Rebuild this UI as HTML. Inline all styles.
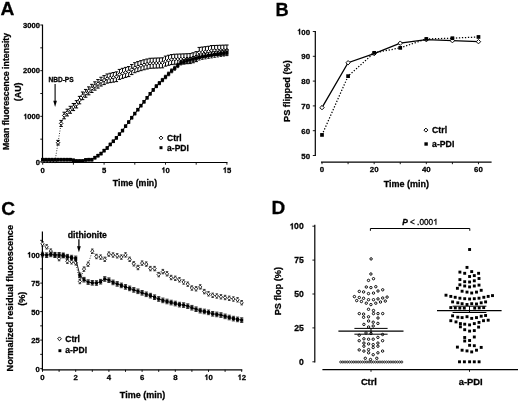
<!DOCTYPE html>
<html><head><meta charset="utf-8"><style>
html,body{margin:0;padding:0;background:#fff;width:520px;height:403px;overflow:hidden}
svg{display:block;will-change:transform}
text{stroke:#000;stroke-width:0.28px;font-family:"Liberation Sans", sans-serif;fill:#000}
</style></head><body>
<svg width="520" height="403" viewBox="0 0 520 403">
<rect width="520" height="403" fill="#fff"/>
<g id="main">
<text x="0.6" y="14.6" font-size="19.2" font-weight="bold" text-anchor="start">A</text>
<line x1="42.5" y1="24.6" x2="42.5" y2="163" stroke="#000" stroke-width="1.2"/>
<line x1="42" y1="162.5" x2="227.5" y2="162.5" stroke="#000" stroke-width="1.2"/>
<line x1="40.3" y1="162" x2="42.5" y2="162" stroke="#000" stroke-width="0.9"/>
<text x="40" y="164.8" font-size="7.6" font-weight="bold" text-anchor="end">0</text>
<line x1="40.3" y1="139.17" x2="42.5" y2="139.17" stroke="#000" stroke-width="0.9"/>
<line x1="40.3" y1="116.33" x2="42.5" y2="116.33" stroke="#000" stroke-width="0.9"/>
<text x="40" y="119.13" font-size="7.6" font-weight="bold" text-anchor="end">&#x2007;000</text>
<path d="M26.18 119.13 L25.19 119.13 L25.19 115.33 Q24.62 115.71 24.01 115.87 L24.01 114.95 Q24.62 114.73 25.07 114.27 Q25.38 113.97 25.45 113.69 L26.18 113.69Z" fill="#000" stroke="#000" stroke-width="0.28"/>
<line x1="40.3" y1="93.5" x2="42.5" y2="93.5" stroke="#000" stroke-width="0.9"/>
<line x1="40.3" y1="70.67" x2="42.5" y2="70.67" stroke="#000" stroke-width="0.9"/>
<text x="40" y="73.47" font-size="7.6" font-weight="bold" text-anchor="end">2000</text>
<line x1="40.3" y1="47.83" x2="42.5" y2="47.83" stroke="#000" stroke-width="0.9"/>
<line x1="40.3" y1="25" x2="42.5" y2="25" stroke="#000" stroke-width="0.9"/>
<text x="40" y="27.8" font-size="7.6" font-weight="bold" text-anchor="end">3000</text>
<line x1="42.7" y1="162.6" x2="42.7" y2="164.7" stroke="#000" stroke-width="0.9"/>
<text x="42.7" y="172.8" font-size="7.7" font-weight="bold" text-anchor="middle">0</text>
<line x1="73.4" y1="162.6" x2="73.4" y2="164.7" stroke="#000" stroke-width="0.9"/>
<line x1="104.1" y1="162.6" x2="104.1" y2="164.7" stroke="#000" stroke-width="0.9"/>
<text x="104.1" y="172.8" font-size="7.7" font-weight="bold" text-anchor="middle">5</text>
<line x1="134.8" y1="162.6" x2="134.8" y2="164.7" stroke="#000" stroke-width="0.9"/>
<line x1="165.5" y1="162.6" x2="165.5" y2="164.7" stroke="#000" stroke-width="0.9"/>
<text x="165.5" y="172.8" font-size="7.7" font-weight="bold" text-anchor="middle">&#x2007;0</text>
<path d="M164.34 172.8 L163.34 172.8 L163.34 168.95 Q162.76 169.34 162.14 169.49 L162.14 168.56 Q162.76 168.33 163.22 167.87 Q163.53 167.56 163.61 167.29 L164.34 167.29Z" fill="#000" stroke="#000" stroke-width="0.28"/>
<line x1="196.2" y1="162.6" x2="196.2" y2="164.7" stroke="#000" stroke-width="0.9"/>
<line x1="226.9" y1="162.6" x2="226.9" y2="164.7" stroke="#000" stroke-width="0.9"/>
<text x="226.9" y="172.8" font-size="7.7" font-weight="bold" text-anchor="middle">&#x2007;5</text>
<path d="M225.74 172.8 L224.74 172.8 L224.74 168.95 Q224.16 169.34 223.54 169.49 L223.54 168.56 Q224.16 168.33 224.62 167.87 Q224.93 167.56 225.01 167.29 L225.74 167.29Z" fill="#000" stroke="#000" stroke-width="0.28"/>
<text x="135" y="186" font-size="8.8" font-weight="bold" text-anchor="middle">Time (min)</text>
<text x="8.6" y="91.5" font-size="8.75" font-weight="bold" text-anchor="middle" transform="rotate(-90 8.6 91.5)">Mean fluorescence intensity</text>
<text x="20.7" y="91.8" font-size="8.85" font-weight="bold" text-anchor="middle" transform="rotate(-90 20.7 91.8)">(AU)</text>
<text x="48.4" y="82.4" font-size="6.6" font-weight="bold" text-anchor="start">NBD-PS</text>
<line x1="55.1" y1="84" x2="55.1" y2="102" stroke="#000" stroke-width="1.1"/>
<path d="M53.3 100.8L56.9 100.8L55.1 106.9Z" fill="#000"/>
<polyline points="42.7,161.3 45.77,161.3 48.84,161.3 51.91,161.3 54.98,161.3 58.05,142.7 61.12,123.44 64.19,115.51 67.26,112.55 70.33,109.78 73.4,107.04 76.47,104.29 79.54,100.11 82.61,95.81 85.68,93.34 88.75,90.86 91.82,88.43 94.89,86.01 97.96,83.83 101.03,81.65 104.1,80.1 107.17,78.56 110.24,77.93 113.31,77.34 116.38,76.74 119.45,74.4 122.52,73.34 125.59,72.39 128.66,71.59 131.73,69.59 134.8,67.71 137.87,66.61 140.94,65.65 144.01,64.78 147.08,64 150.15,63.29 153.22,63.18 156.29,63.06 159.36,62.94 162.43,62.82 165.5,61.13 168.57,60.25 171.64,59.59 174.71,59.23 177.78,59.1 180.85,58.98 183.92,58.85 186.99,58.72 190.06,58.58 193.13,57.77 196.2,56.64 199.27,52.41 202.34,52.06 205.41,51.7 208.48,51.27 211.55,50.58 214.62,50.46 217.69,50.35 220.76,50.23 223.83,50.12 226.9,50" fill="none" stroke="#000" stroke-width="0.85" stroke-dasharray="0.9 1.6"/>
<line x1="58.05" y1="140.39" x2="58.05" y2="145.01" stroke="#000" stroke-width="1"/>
<line x1="56.35" y1="140.39" x2="59.75" y2="140.39" stroke="#000" stroke-width="1"/>
<line x1="56.35" y1="145.01" x2="59.75" y2="145.01" stroke="#000" stroke-width="1"/>
<line x1="61.12" y1="120.43" x2="61.12" y2="126.45" stroke="#000" stroke-width="1"/>
<line x1="59.42" y1="120.43" x2="62.82" y2="120.43" stroke="#000" stroke-width="1"/>
<line x1="59.42" y1="126.45" x2="62.82" y2="126.45" stroke="#000" stroke-width="1"/>
<line x1="64.19" y1="112.2" x2="64.19" y2="118.82" stroke="#000" stroke-width="1"/>
<line x1="62.49" y1="112.2" x2="65.89" y2="112.2" stroke="#000" stroke-width="1"/>
<line x1="62.49" y1="118.82" x2="65.89" y2="118.82" stroke="#000" stroke-width="1"/>
<line x1="67.26" y1="109.16" x2="67.26" y2="115.93" stroke="#000" stroke-width="1"/>
<line x1="65.56" y1="109.16" x2="68.96" y2="109.16" stroke="#000" stroke-width="1"/>
<line x1="65.56" y1="115.93" x2="68.96" y2="115.93" stroke="#000" stroke-width="1"/>
<line x1="70.33" y1="106.31" x2="70.33" y2="113.25" stroke="#000" stroke-width="1"/>
<line x1="68.63" y1="106.31" x2="72.03" y2="106.31" stroke="#000" stroke-width="1"/>
<line x1="68.63" y1="113.25" x2="72.03" y2="113.25" stroke="#000" stroke-width="1"/>
<line x1="73.4" y1="103.48" x2="73.4" y2="110.59" stroke="#000" stroke-width="1"/>
<line x1="71.7" y1="103.48" x2="75.1" y2="103.48" stroke="#000" stroke-width="1"/>
<line x1="71.7" y1="110.59" x2="75.1" y2="110.59" stroke="#000" stroke-width="1"/>
<line x1="76.47" y1="100.66" x2="76.47" y2="107.93" stroke="#000" stroke-width="1"/>
<line x1="74.77" y1="100.66" x2="78.17" y2="100.66" stroke="#000" stroke-width="1"/>
<line x1="74.77" y1="107.93" x2="78.17" y2="107.93" stroke="#000" stroke-width="1"/>
<line x1="79.54" y1="96.39" x2="79.54" y2="103.82" stroke="#000" stroke-width="1"/>
<line x1="77.84" y1="96.39" x2="81.24" y2="96.39" stroke="#000" stroke-width="1"/>
<line x1="77.84" y1="103.82" x2="81.24" y2="103.82" stroke="#000" stroke-width="1"/>
<line x1="82.61" y1="92.01" x2="82.61" y2="99.61" stroke="#000" stroke-width="1"/>
<line x1="80.91" y1="92.01" x2="84.31" y2="92.01" stroke="#000" stroke-width="1"/>
<line x1="80.91" y1="99.61" x2="84.31" y2="99.61" stroke="#000" stroke-width="1"/>
<line x1="85.68" y1="89.45" x2="85.68" y2="97.22" stroke="#000" stroke-width="1"/>
<line x1="83.98" y1="89.45" x2="87.38" y2="89.45" stroke="#000" stroke-width="1"/>
<line x1="83.98" y1="97.22" x2="87.38" y2="97.22" stroke="#000" stroke-width="1"/>
<line x1="88.75" y1="86.89" x2="88.75" y2="94.83" stroke="#000" stroke-width="1"/>
<line x1="87.05" y1="86.89" x2="90.45" y2="86.89" stroke="#000" stroke-width="1"/>
<line x1="87.05" y1="94.83" x2="90.45" y2="94.83" stroke="#000" stroke-width="1"/>
<line x1="91.82" y1="84.37" x2="91.82" y2="92.49" stroke="#000" stroke-width="1"/>
<line x1="90.12" y1="84.37" x2="93.52" y2="84.37" stroke="#000" stroke-width="1"/>
<line x1="90.12" y1="92.49" x2="93.52" y2="92.49" stroke="#000" stroke-width="1"/>
<line x1="94.89" y1="81.84" x2="94.89" y2="90.17" stroke="#000" stroke-width="1"/>
<line x1="93.19" y1="81.84" x2="96.59" y2="81.84" stroke="#000" stroke-width="1"/>
<line x1="93.19" y1="90.17" x2="96.59" y2="90.17" stroke="#000" stroke-width="1"/>
<line x1="97.96" y1="79.56" x2="97.96" y2="88.09" stroke="#000" stroke-width="1"/>
<line x1="96.26" y1="79.56" x2="99.66" y2="79.56" stroke="#000" stroke-width="1"/>
<line x1="96.26" y1="88.09" x2="99.66" y2="88.09" stroke="#000" stroke-width="1"/>
<line x1="101.03" y1="77.28" x2="101.03" y2="86.02" stroke="#000" stroke-width="1"/>
<line x1="99.33" y1="77.28" x2="102.73" y2="77.28" stroke="#000" stroke-width="1"/>
<line x1="99.33" y1="86.02" x2="102.73" y2="86.02" stroke="#000" stroke-width="1"/>
<line x1="104.1" y1="75.63" x2="104.1" y2="84.57" stroke="#000" stroke-width="1"/>
<line x1="102.4" y1="75.63" x2="105.8" y2="75.63" stroke="#000" stroke-width="1"/>
<line x1="102.4" y1="84.57" x2="105.8" y2="84.57" stroke="#000" stroke-width="1"/>
<line x1="107.17" y1="73.99" x2="107.17" y2="83.14" stroke="#000" stroke-width="1"/>
<line x1="105.47" y1="73.99" x2="108.87" y2="73.99" stroke="#000" stroke-width="1"/>
<line x1="105.47" y1="83.14" x2="108.87" y2="83.14" stroke="#000" stroke-width="1"/>
<line x1="110.24" y1="73.26" x2="110.24" y2="82.61" stroke="#000" stroke-width="1"/>
<line x1="108.54" y1="73.26" x2="111.94" y2="73.26" stroke="#000" stroke-width="1"/>
<line x1="108.54" y1="82.61" x2="111.94" y2="82.61" stroke="#000" stroke-width="1"/>
<line x1="113.31" y1="72.56" x2="113.31" y2="82.11" stroke="#000" stroke-width="1"/>
<line x1="111.61" y1="72.56" x2="115.01" y2="72.56" stroke="#000" stroke-width="1"/>
<line x1="111.61" y1="82.11" x2="115.01" y2="82.11" stroke="#000" stroke-width="1"/>
<line x1="116.38" y1="71.86" x2="116.38" y2="81.62" stroke="#000" stroke-width="1"/>
<line x1="114.68" y1="71.86" x2="118.08" y2="71.86" stroke="#000" stroke-width="1"/>
<line x1="114.68" y1="81.62" x2="118.08" y2="81.62" stroke="#000" stroke-width="1"/>
<line x1="119.45" y1="69.42" x2="119.45" y2="79.38" stroke="#000" stroke-width="1"/>
<line x1="117.75" y1="69.42" x2="121.15" y2="69.42" stroke="#000" stroke-width="1"/>
<line x1="117.75" y1="79.38" x2="121.15" y2="79.38" stroke="#000" stroke-width="1"/>
<line x1="122.52" y1="68.34" x2="122.52" y2="78.34" stroke="#000" stroke-width="1"/>
<line x1="120.82" y1="68.34" x2="124.22" y2="68.34" stroke="#000" stroke-width="1"/>
<line x1="120.82" y1="78.34" x2="124.22" y2="78.34" stroke="#000" stroke-width="1"/>
<line x1="125.59" y1="67.39" x2="125.59" y2="77.39" stroke="#000" stroke-width="1"/>
<line x1="123.89" y1="67.39" x2="127.29" y2="67.39" stroke="#000" stroke-width="1"/>
<line x1="123.89" y1="77.39" x2="127.29" y2="77.39" stroke="#000" stroke-width="1"/>
<line x1="128.66" y1="66.59" x2="128.66" y2="76.59" stroke="#000" stroke-width="1"/>
<line x1="126.96" y1="66.59" x2="130.36" y2="66.59" stroke="#000" stroke-width="1"/>
<line x1="126.96" y1="76.59" x2="130.36" y2="76.59" stroke="#000" stroke-width="1"/>
<line x1="131.73" y1="64.59" x2="131.73" y2="74.59" stroke="#000" stroke-width="1"/>
<line x1="130.03" y1="64.59" x2="133.43" y2="64.59" stroke="#000" stroke-width="1"/>
<line x1="130.03" y1="74.59" x2="133.43" y2="74.59" stroke="#000" stroke-width="1"/>
<line x1="134.8" y1="62.71" x2="134.8" y2="72.71" stroke="#000" stroke-width="1"/>
<line x1="133.1" y1="62.71" x2="136.5" y2="62.71" stroke="#000" stroke-width="1"/>
<line x1="133.1" y1="72.71" x2="136.5" y2="72.71" stroke="#000" stroke-width="1"/>
<line x1="137.87" y1="61.61" x2="137.87" y2="71.61" stroke="#000" stroke-width="1"/>
<line x1="136.17" y1="61.61" x2="139.57" y2="61.61" stroke="#000" stroke-width="1"/>
<line x1="136.17" y1="71.61" x2="139.57" y2="71.61" stroke="#000" stroke-width="1"/>
<line x1="140.94" y1="60.65" x2="140.94" y2="70.65" stroke="#000" stroke-width="1"/>
<line x1="139.24" y1="60.65" x2="142.64" y2="60.65" stroke="#000" stroke-width="1"/>
<line x1="139.24" y1="70.65" x2="142.64" y2="70.65" stroke="#000" stroke-width="1"/>
<line x1="144.01" y1="59.78" x2="144.01" y2="69.78" stroke="#000" stroke-width="1"/>
<line x1="142.31" y1="59.78" x2="145.71" y2="59.78" stroke="#000" stroke-width="1"/>
<line x1="142.31" y1="69.78" x2="145.71" y2="69.78" stroke="#000" stroke-width="1"/>
<line x1="147.08" y1="59" x2="147.08" y2="69" stroke="#000" stroke-width="1"/>
<line x1="145.38" y1="59" x2="148.78" y2="59" stroke="#000" stroke-width="1"/>
<line x1="145.38" y1="69" x2="148.78" y2="69" stroke="#000" stroke-width="1"/>
<line x1="150.15" y1="58.29" x2="150.15" y2="68.29" stroke="#000" stroke-width="1"/>
<line x1="148.45" y1="58.29" x2="151.85" y2="58.29" stroke="#000" stroke-width="1"/>
<line x1="148.45" y1="68.29" x2="151.85" y2="68.29" stroke="#000" stroke-width="1"/>
<line x1="153.22" y1="58.18" x2="153.22" y2="68.18" stroke="#000" stroke-width="1"/>
<line x1="151.52" y1="58.18" x2="154.92" y2="58.18" stroke="#000" stroke-width="1"/>
<line x1="151.52" y1="68.18" x2="154.92" y2="68.18" stroke="#000" stroke-width="1"/>
<line x1="156.29" y1="58.06" x2="156.29" y2="68.06" stroke="#000" stroke-width="1"/>
<line x1="154.59" y1="58.06" x2="157.99" y2="58.06" stroke="#000" stroke-width="1"/>
<line x1="154.59" y1="68.06" x2="157.99" y2="68.06" stroke="#000" stroke-width="1"/>
<line x1="159.36" y1="57.94" x2="159.36" y2="67.94" stroke="#000" stroke-width="1"/>
<line x1="157.66" y1="57.94" x2="161.06" y2="57.94" stroke="#000" stroke-width="1"/>
<line x1="157.66" y1="67.94" x2="161.06" y2="67.94" stroke="#000" stroke-width="1"/>
<line x1="162.43" y1="57.82" x2="162.43" y2="67.82" stroke="#000" stroke-width="1"/>
<line x1="160.73" y1="57.82" x2="164.13" y2="57.82" stroke="#000" stroke-width="1"/>
<line x1="160.73" y1="67.82" x2="164.13" y2="67.82" stroke="#000" stroke-width="1"/>
<line x1="165.5" y1="56.13" x2="165.5" y2="66.13" stroke="#000" stroke-width="1"/>
<line x1="163.8" y1="56.13" x2="167.2" y2="56.13" stroke="#000" stroke-width="1"/>
<line x1="163.8" y1="66.13" x2="167.2" y2="66.13" stroke="#000" stroke-width="1"/>
<line x1="168.57" y1="55.25" x2="168.57" y2="65.25" stroke="#000" stroke-width="1"/>
<line x1="166.87" y1="55.25" x2="170.27" y2="55.25" stroke="#000" stroke-width="1"/>
<line x1="166.87" y1="65.25" x2="170.27" y2="65.25" stroke="#000" stroke-width="1"/>
<line x1="171.64" y1="54.59" x2="171.64" y2="64.59" stroke="#000" stroke-width="1"/>
<line x1="169.94" y1="54.59" x2="173.34" y2="54.59" stroke="#000" stroke-width="1"/>
<line x1="169.94" y1="64.59" x2="173.34" y2="64.59" stroke="#000" stroke-width="1"/>
<line x1="174.71" y1="54.23" x2="174.71" y2="64.23" stroke="#000" stroke-width="1"/>
<line x1="173.01" y1="54.23" x2="176.41" y2="54.23" stroke="#000" stroke-width="1"/>
<line x1="173.01" y1="64.23" x2="176.41" y2="64.23" stroke="#000" stroke-width="1"/>
<line x1="177.78" y1="54.1" x2="177.78" y2="64.1" stroke="#000" stroke-width="1"/>
<line x1="176.08" y1="54.1" x2="179.48" y2="54.1" stroke="#000" stroke-width="1"/>
<line x1="176.08" y1="64.1" x2="179.48" y2="64.1" stroke="#000" stroke-width="1"/>
<line x1="180.85" y1="53.98" x2="180.85" y2="63.98" stroke="#000" stroke-width="1"/>
<line x1="179.15" y1="53.98" x2="182.55" y2="53.98" stroke="#000" stroke-width="1"/>
<line x1="179.15" y1="63.98" x2="182.55" y2="63.98" stroke="#000" stroke-width="1"/>
<line x1="183.92" y1="53.85" x2="183.92" y2="63.85" stroke="#000" stroke-width="1"/>
<line x1="182.22" y1="53.85" x2="185.62" y2="53.85" stroke="#000" stroke-width="1"/>
<line x1="182.22" y1="63.85" x2="185.62" y2="63.85" stroke="#000" stroke-width="1"/>
<line x1="186.99" y1="53.72" x2="186.99" y2="63.72" stroke="#000" stroke-width="1"/>
<line x1="185.29" y1="53.72" x2="188.69" y2="53.72" stroke="#000" stroke-width="1"/>
<line x1="185.29" y1="63.72" x2="188.69" y2="63.72" stroke="#000" stroke-width="1"/>
<line x1="190.06" y1="53.58" x2="190.06" y2="63.58" stroke="#000" stroke-width="1"/>
<line x1="188.36" y1="53.58" x2="191.76" y2="53.58" stroke="#000" stroke-width="1"/>
<line x1="188.36" y1="63.58" x2="191.76" y2="63.58" stroke="#000" stroke-width="1"/>
<line x1="193.13" y1="52.77" x2="193.13" y2="62.77" stroke="#000" stroke-width="1"/>
<line x1="191.43" y1="52.77" x2="194.83" y2="52.77" stroke="#000" stroke-width="1"/>
<line x1="191.43" y1="62.77" x2="194.83" y2="62.77" stroke="#000" stroke-width="1"/>
<line x1="196.2" y1="51.64" x2="196.2" y2="61.64" stroke="#000" stroke-width="1"/>
<line x1="194.5" y1="51.64" x2="197.9" y2="51.64" stroke="#000" stroke-width="1"/>
<line x1="194.5" y1="61.64" x2="197.9" y2="61.64" stroke="#000" stroke-width="1"/>
<line x1="199.27" y1="47.41" x2="199.27" y2="57.41" stroke="#000" stroke-width="1"/>
<line x1="197.57" y1="47.41" x2="200.97" y2="47.41" stroke="#000" stroke-width="1"/>
<line x1="197.57" y1="57.41" x2="200.97" y2="57.41" stroke="#000" stroke-width="1"/>
<line x1="202.34" y1="47.06" x2="202.34" y2="57.06" stroke="#000" stroke-width="1"/>
<line x1="200.64" y1="47.06" x2="204.04" y2="47.06" stroke="#000" stroke-width="1"/>
<line x1="200.64" y1="57.06" x2="204.04" y2="57.06" stroke="#000" stroke-width="1"/>
<line x1="205.41" y1="46.7" x2="205.41" y2="56.7" stroke="#000" stroke-width="1"/>
<line x1="203.71" y1="46.7" x2="207.11" y2="46.7" stroke="#000" stroke-width="1"/>
<line x1="203.71" y1="56.7" x2="207.11" y2="56.7" stroke="#000" stroke-width="1"/>
<line x1="208.48" y1="46.27" x2="208.48" y2="56.27" stroke="#000" stroke-width="1"/>
<line x1="206.78" y1="46.27" x2="210.18" y2="46.27" stroke="#000" stroke-width="1"/>
<line x1="206.78" y1="56.27" x2="210.18" y2="56.27" stroke="#000" stroke-width="1"/>
<line x1="211.55" y1="45.58" x2="211.55" y2="55.58" stroke="#000" stroke-width="1"/>
<line x1="209.85" y1="45.58" x2="213.25" y2="45.58" stroke="#000" stroke-width="1"/>
<line x1="209.85" y1="55.58" x2="213.25" y2="55.58" stroke="#000" stroke-width="1"/>
<line x1="214.62" y1="45.46" x2="214.62" y2="55.46" stroke="#000" stroke-width="1"/>
<line x1="212.92" y1="45.46" x2="216.32" y2="45.46" stroke="#000" stroke-width="1"/>
<line x1="212.92" y1="55.46" x2="216.32" y2="55.46" stroke="#000" stroke-width="1"/>
<line x1="217.69" y1="45.35" x2="217.69" y2="55.35" stroke="#000" stroke-width="1"/>
<line x1="215.99" y1="45.35" x2="219.39" y2="45.35" stroke="#000" stroke-width="1"/>
<line x1="215.99" y1="55.35" x2="219.39" y2="55.35" stroke="#000" stroke-width="1"/>
<line x1="220.76" y1="45.23" x2="220.76" y2="55.23" stroke="#000" stroke-width="1"/>
<line x1="219.06" y1="45.23" x2="222.46" y2="45.23" stroke="#000" stroke-width="1"/>
<line x1="219.06" y1="55.23" x2="222.46" y2="55.23" stroke="#000" stroke-width="1"/>
<line x1="223.83" y1="45.12" x2="223.83" y2="55.12" stroke="#000" stroke-width="1"/>
<line x1="222.13" y1="45.12" x2="225.53" y2="45.12" stroke="#000" stroke-width="1"/>
<line x1="222.13" y1="55.12" x2="225.53" y2="55.12" stroke="#000" stroke-width="1"/>
<line x1="226.9" y1="45" x2="226.9" y2="55" stroke="#000" stroke-width="1"/>
<line x1="225.2" y1="45" x2="228.6" y2="45" stroke="#000" stroke-width="1"/>
<line x1="225.2" y1="55" x2="228.6" y2="55" stroke="#000" stroke-width="1"/>
<path d="M42.7 159.55L44.45 161.3L42.7 163.05L40.95 161.3Z" fill="#fff" stroke="#000" stroke-width="1"/>
<path d="M45.77 159.55L47.52 161.3L45.77 163.05L44.02 161.3Z" fill="#fff" stroke="#000" stroke-width="1"/>
<path d="M48.84 159.55L50.59 161.3L48.84 163.05L47.09 161.3Z" fill="#fff" stroke="#000" stroke-width="1"/>
<path d="M51.91 159.55L53.66 161.3L51.91 163.05L50.16 161.3Z" fill="#fff" stroke="#000" stroke-width="1"/>
<path d="M54.98 159.55L56.73 161.3L54.98 163.05L53.23 161.3Z" fill="#fff" stroke="#000" stroke-width="1"/>
<path d="M58.05 140.95L59.8 142.7L58.05 144.45L56.3 142.7Z" fill="#fff" stroke="#000" stroke-width="1"/>
<path d="M61.12 121.69L62.87 123.44L61.12 125.19L59.37 123.44Z" fill="#fff" stroke="#000" stroke-width="1"/>
<path d="M64.19 113.76L65.94 115.51L64.19 117.26L62.44 115.51Z" fill="#fff" stroke="#000" stroke-width="1"/>
<path d="M67.26 110.8L69.01 112.55L67.26 114.3L65.51 112.55Z" fill="#fff" stroke="#000" stroke-width="1"/>
<path d="M70.33 108.03L72.08 109.78L70.33 111.53L68.58 109.78Z" fill="#fff" stroke="#000" stroke-width="1"/>
<path d="M73.4 105.29L75.15 107.04L73.4 108.79L71.65 107.04Z" fill="#fff" stroke="#000" stroke-width="1"/>
<path d="M76.47 102.54L78.22 104.29L76.47 106.04L74.72 104.29Z" fill="#fff" stroke="#000" stroke-width="1"/>
<path d="M79.54 98.36L81.29 100.11L79.54 101.86L77.79 100.11Z" fill="#fff" stroke="#000" stroke-width="1"/>
<path d="M82.61 94.06L84.36 95.81L82.61 97.56L80.86 95.81Z" fill="#fff" stroke="#000" stroke-width="1"/>
<path d="M85.68 91.59L87.43 93.34L85.68 95.09L83.93 93.34Z" fill="#fff" stroke="#000" stroke-width="1"/>
<path d="M88.75 89.11L90.5 90.86L88.75 92.61L87 90.86Z" fill="#fff" stroke="#000" stroke-width="1"/>
<path d="M91.82 86.68L93.57 88.43L91.82 90.18L90.07 88.43Z" fill="#fff" stroke="#000" stroke-width="1"/>
<path d="M94.89 84.26L96.64 86.01L94.89 87.76L93.14 86.01Z" fill="#fff" stroke="#000" stroke-width="1"/>
<path d="M97.96 82.08L99.71 83.83L97.96 85.58L96.21 83.83Z" fill="#fff" stroke="#000" stroke-width="1"/>
<path d="M101.03 79.9L102.78 81.65L101.03 83.4L99.28 81.65Z" fill="#fff" stroke="#000" stroke-width="1"/>
<path d="M104.1 78.35L105.85 80.1L104.1 81.85L102.35 80.1Z" fill="#fff" stroke="#000" stroke-width="1"/>
<path d="M107.17 76.81L108.92 78.56L107.17 80.31L105.42 78.56Z" fill="#fff" stroke="#000" stroke-width="1"/>
<path d="M110.24 76.18L111.99 77.93L110.24 79.68L108.49 77.93Z" fill="#fff" stroke="#000" stroke-width="1"/>
<path d="M113.31 75.59L115.06 77.34L113.31 79.09L111.56 77.34Z" fill="#fff" stroke="#000" stroke-width="1"/>
<path d="M116.38 74.99L118.13 76.74L116.38 78.49L114.63 76.74Z" fill="#fff" stroke="#000" stroke-width="1"/>
<path d="M119.45 72.65L121.2 74.4L119.45 76.15L117.7 74.4Z" fill="#fff" stroke="#000" stroke-width="1"/>
<path d="M122.52 71.59L124.27 73.34L122.52 75.09L120.77 73.34Z" fill="#fff" stroke="#000" stroke-width="1"/>
<path d="M125.59 70.64L127.34 72.39L125.59 74.14L123.84 72.39Z" fill="#fff" stroke="#000" stroke-width="1"/>
<path d="M128.66 69.84L130.41 71.59L128.66 73.34L126.91 71.59Z" fill="#fff" stroke="#000" stroke-width="1"/>
<path d="M131.73 67.84L133.48 69.59L131.73 71.34L129.98 69.59Z" fill="#fff" stroke="#000" stroke-width="1"/>
<path d="M134.8 65.96L136.55 67.71L134.8 69.46L133.05 67.71Z" fill="#fff" stroke="#000" stroke-width="1"/>
<path d="M137.87 64.86L139.62 66.61L137.87 68.36L136.12 66.61Z" fill="#fff" stroke="#000" stroke-width="1"/>
<path d="M140.94 63.9L142.69 65.65L140.94 67.4L139.19 65.65Z" fill="#fff" stroke="#000" stroke-width="1"/>
<path d="M144.01 63.03L145.76 64.78L144.01 66.53L142.26 64.78Z" fill="#fff" stroke="#000" stroke-width="1"/>
<path d="M147.08 62.25L148.83 64L147.08 65.75L145.33 64Z" fill="#fff" stroke="#000" stroke-width="1"/>
<path d="M150.15 61.54L151.9 63.29L150.15 65.04L148.4 63.29Z" fill="#fff" stroke="#000" stroke-width="1"/>
<path d="M153.22 61.43L154.97 63.18L153.22 64.93L151.47 63.18Z" fill="#fff" stroke="#000" stroke-width="1"/>
<path d="M156.29 61.31L158.04 63.06L156.29 64.81L154.54 63.06Z" fill="#fff" stroke="#000" stroke-width="1"/>
<path d="M159.36 61.19L161.11 62.94L159.36 64.69L157.61 62.94Z" fill="#fff" stroke="#000" stroke-width="1"/>
<path d="M162.43 61.07L164.18 62.82L162.43 64.57L160.68 62.82Z" fill="#fff" stroke="#000" stroke-width="1"/>
<path d="M165.5 59.38L167.25 61.13L165.5 62.88L163.75 61.13Z" fill="#fff" stroke="#000" stroke-width="1"/>
<path d="M168.57 58.5L170.32 60.25L168.57 62L166.82 60.25Z" fill="#fff" stroke="#000" stroke-width="1"/>
<path d="M171.64 57.84L173.39 59.59L171.64 61.34L169.89 59.59Z" fill="#fff" stroke="#000" stroke-width="1"/>
<path d="M174.71 57.48L176.46 59.23L174.71 60.98L172.96 59.23Z" fill="#fff" stroke="#000" stroke-width="1"/>
<path d="M177.78 57.35L179.53 59.1L177.78 60.85L176.03 59.1Z" fill="#fff" stroke="#000" stroke-width="1"/>
<path d="M180.85 57.23L182.6 58.98L180.85 60.73L179.1 58.98Z" fill="#fff" stroke="#000" stroke-width="1"/>
<path d="M183.92 57.1L185.67 58.85L183.92 60.6L182.17 58.85Z" fill="#fff" stroke="#000" stroke-width="1"/>
<path d="M186.99 56.97L188.74 58.72L186.99 60.47L185.24 58.72Z" fill="#fff" stroke="#000" stroke-width="1"/>
<path d="M190.06 56.83L191.81 58.58L190.06 60.33L188.31 58.58Z" fill="#fff" stroke="#000" stroke-width="1"/>
<path d="M193.13 56.02L194.88 57.77L193.13 59.52L191.38 57.77Z" fill="#fff" stroke="#000" stroke-width="1"/>
<path d="M196.2 54.89L197.95 56.64L196.2 58.39L194.45 56.64Z" fill="#fff" stroke="#000" stroke-width="1"/>
<path d="M199.27 50.66L201.02 52.41L199.27 54.16L197.52 52.41Z" fill="#fff" stroke="#000" stroke-width="1"/>
<path d="M202.34 50.31L204.09 52.06L202.34 53.81L200.59 52.06Z" fill="#fff" stroke="#000" stroke-width="1"/>
<path d="M205.41 49.95L207.16 51.7L205.41 53.45L203.66 51.7Z" fill="#fff" stroke="#000" stroke-width="1"/>
<path d="M208.48 49.52L210.23 51.27L208.48 53.02L206.73 51.27Z" fill="#fff" stroke="#000" stroke-width="1"/>
<path d="M211.55 48.83L213.3 50.58L211.55 52.33L209.8 50.58Z" fill="#fff" stroke="#000" stroke-width="1"/>
<path d="M214.62 48.71L216.37 50.46L214.62 52.21L212.87 50.46Z" fill="#fff" stroke="#000" stroke-width="1"/>
<path d="M217.69 48.6L219.44 50.35L217.69 52.1L215.94 50.35Z" fill="#fff" stroke="#000" stroke-width="1"/>
<path d="M220.76 48.48L222.51 50.23L220.76 51.98L219.01 50.23Z" fill="#fff" stroke="#000" stroke-width="1"/>
<path d="M223.83 48.37L225.58 50.12L223.83 51.87L222.08 50.12Z" fill="#fff" stroke="#000" stroke-width="1"/>
<path d="M226.9 48.25L228.65 50L226.9 51.75L225.15 50Z" fill="#fff" stroke="#000" stroke-width="1"/>
<polyline points="42.7,159.7 45.77,159.7 48.84,159.7 51.91,159.7 54.98,159.7 58.05,159.7 61.12,159.7 64.19,159.7 67.26,159.7 70.33,159.7 73.4,160.31 76.47,161 79.54,161 82.61,161 85.68,159.91 88.75,159.7 91.82,159.7 94.89,157.69 97.96,155.65 101.03,153.58 104.1,150.63 107.17,148.02 110.24,144.47 113.31,141.3 116.38,137.87 119.45,134.17 122.52,130.59 125.59,126.18 128.66,122.1 131.73,117.69 134.8,113.58 137.87,109.64 140.94,105.63 144.01,101.76 147.08,97.78 150.15,93.78 153.22,89.91 156.29,86.21 159.36,83.14 162.43,80.07 165.5,77 168.57,73.93 171.64,70.86 174.71,68.23 177.78,65.47 180.85,62.73 183.92,61.75 186.99,60.78 190.06,59.95 193.13,59.12 196.2,58.29 199.27,57.47 202.34,56.76 205.41,56.21 208.48,55.66 211.55,55.12 214.62,54.57 217.69,54.09 220.76,53.61 223.83,53.14 226.9,52.67" fill="none" stroke="#000" stroke-width="1"/>
<line x1="42.7" y1="158.3" x2="42.7" y2="161.1" stroke="#000" stroke-width="0.8"/>
<line x1="41.4" y1="158.3" x2="44" y2="158.3" stroke="#000" stroke-width="0.8"/>
<line x1="41.4" y1="161.1" x2="44" y2="161.1" stroke="#000" stroke-width="0.8"/>
<line x1="45.77" y1="158.3" x2="45.77" y2="161.1" stroke="#000" stroke-width="0.8"/>
<line x1="44.47" y1="158.3" x2="47.07" y2="158.3" stroke="#000" stroke-width="0.8"/>
<line x1="44.47" y1="161.1" x2="47.07" y2="161.1" stroke="#000" stroke-width="0.8"/>
<line x1="48.84" y1="158.31" x2="48.84" y2="161.09" stroke="#000" stroke-width="0.8"/>
<line x1="47.54" y1="158.31" x2="50.14" y2="158.31" stroke="#000" stroke-width="0.8"/>
<line x1="47.54" y1="161.09" x2="50.14" y2="161.09" stroke="#000" stroke-width="0.8"/>
<line x1="51.91" y1="158.31" x2="51.91" y2="161.09" stroke="#000" stroke-width="0.8"/>
<line x1="50.61" y1="158.31" x2="53.21" y2="158.31" stroke="#000" stroke-width="0.8"/>
<line x1="50.61" y1="161.09" x2="53.21" y2="161.09" stroke="#000" stroke-width="0.8"/>
<line x1="54.98" y1="158.31" x2="54.98" y2="161.09" stroke="#000" stroke-width="0.8"/>
<line x1="53.68" y1="158.31" x2="56.28" y2="158.31" stroke="#000" stroke-width="0.8"/>
<line x1="53.68" y1="161.09" x2="56.28" y2="161.09" stroke="#000" stroke-width="0.8"/>
<line x1="58.05" y1="158.31" x2="58.05" y2="161.09" stroke="#000" stroke-width="0.8"/>
<line x1="56.75" y1="158.31" x2="59.35" y2="158.31" stroke="#000" stroke-width="0.8"/>
<line x1="56.75" y1="161.09" x2="59.35" y2="161.09" stroke="#000" stroke-width="0.8"/>
<line x1="61.12" y1="158.32" x2="61.12" y2="161.08" stroke="#000" stroke-width="0.8"/>
<line x1="59.82" y1="158.32" x2="62.42" y2="158.32" stroke="#000" stroke-width="0.8"/>
<line x1="59.82" y1="161.08" x2="62.42" y2="161.08" stroke="#000" stroke-width="0.8"/>
<line x1="64.19" y1="158.32" x2="64.19" y2="161.08" stroke="#000" stroke-width="0.8"/>
<line x1="62.89" y1="158.32" x2="65.49" y2="158.32" stroke="#000" stroke-width="0.8"/>
<line x1="62.89" y1="161.08" x2="65.49" y2="161.08" stroke="#000" stroke-width="0.8"/>
<line x1="67.26" y1="158.32" x2="67.26" y2="161.08" stroke="#000" stroke-width="0.8"/>
<line x1="65.96" y1="158.32" x2="68.56" y2="158.32" stroke="#000" stroke-width="0.8"/>
<line x1="65.96" y1="161.08" x2="68.56" y2="161.08" stroke="#000" stroke-width="0.8"/>
<line x1="70.33" y1="158.33" x2="70.33" y2="161.07" stroke="#000" stroke-width="0.8"/>
<line x1="69.03" y1="158.33" x2="71.63" y2="158.33" stroke="#000" stroke-width="0.8"/>
<line x1="69.03" y1="161.07" x2="71.63" y2="161.07" stroke="#000" stroke-width="0.8"/>
<line x1="73.4" y1="158.94" x2="73.4" y2="161.68" stroke="#000" stroke-width="0.8"/>
<line x1="72.1" y1="158.94" x2="74.7" y2="158.94" stroke="#000" stroke-width="0.8"/>
<line x1="72.1" y1="161.68" x2="74.7" y2="161.68" stroke="#000" stroke-width="0.8"/>
<line x1="76.47" y1="159.63" x2="76.47" y2="162.37" stroke="#000" stroke-width="0.8"/>
<line x1="75.17" y1="159.63" x2="77.77" y2="159.63" stroke="#000" stroke-width="0.8"/>
<line x1="75.17" y1="162.37" x2="77.77" y2="162.37" stroke="#000" stroke-width="0.8"/>
<line x1="79.54" y1="159.63" x2="79.54" y2="162.37" stroke="#000" stroke-width="0.8"/>
<line x1="78.24" y1="159.63" x2="80.84" y2="159.63" stroke="#000" stroke-width="0.8"/>
<line x1="78.24" y1="162.37" x2="80.84" y2="162.37" stroke="#000" stroke-width="0.8"/>
<line x1="82.61" y1="159.64" x2="82.61" y2="162.36" stroke="#000" stroke-width="0.8"/>
<line x1="81.31" y1="159.64" x2="83.91" y2="159.64" stroke="#000" stroke-width="0.8"/>
<line x1="81.31" y1="162.36" x2="83.91" y2="162.36" stroke="#000" stroke-width="0.8"/>
<line x1="85.68" y1="158.55" x2="85.68" y2="161.27" stroke="#000" stroke-width="0.8"/>
<line x1="84.38" y1="158.55" x2="86.98" y2="158.55" stroke="#000" stroke-width="0.8"/>
<line x1="84.38" y1="161.27" x2="86.98" y2="161.27" stroke="#000" stroke-width="0.8"/>
<line x1="88.75" y1="158.34" x2="88.75" y2="161.06" stroke="#000" stroke-width="0.8"/>
<line x1="87.45" y1="158.34" x2="90.05" y2="158.34" stroke="#000" stroke-width="0.8"/>
<line x1="87.45" y1="161.06" x2="90.05" y2="161.06" stroke="#000" stroke-width="0.8"/>
<line x1="91.82" y1="158.35" x2="91.82" y2="161.05" stroke="#000" stroke-width="0.8"/>
<line x1="90.52" y1="158.35" x2="93.12" y2="158.35" stroke="#000" stroke-width="0.8"/>
<line x1="90.52" y1="161.05" x2="93.12" y2="161.05" stroke="#000" stroke-width="0.8"/>
<line x1="94.89" y1="156.34" x2="94.89" y2="159.04" stroke="#000" stroke-width="0.8"/>
<line x1="93.59" y1="156.34" x2="96.19" y2="156.34" stroke="#000" stroke-width="0.8"/>
<line x1="93.59" y1="159.04" x2="96.19" y2="159.04" stroke="#000" stroke-width="0.8"/>
<line x1="97.96" y1="154.3" x2="97.96" y2="157" stroke="#000" stroke-width="0.8"/>
<line x1="96.66" y1="154.3" x2="99.26" y2="154.3" stroke="#000" stroke-width="0.8"/>
<line x1="96.66" y1="157" x2="99.26" y2="157" stroke="#000" stroke-width="0.8"/>
<line x1="101.03" y1="152.24" x2="101.03" y2="154.93" stroke="#000" stroke-width="0.8"/>
<line x1="99.73" y1="152.24" x2="102.33" y2="152.24" stroke="#000" stroke-width="0.8"/>
<line x1="99.73" y1="154.93" x2="102.33" y2="154.93" stroke="#000" stroke-width="0.8"/>
<line x1="104.1" y1="149.29" x2="104.1" y2="151.97" stroke="#000" stroke-width="0.8"/>
<line x1="102.8" y1="149.29" x2="105.4" y2="149.29" stroke="#000" stroke-width="0.8"/>
<line x1="102.8" y1="151.97" x2="105.4" y2="151.97" stroke="#000" stroke-width="0.8"/>
<line x1="107.17" y1="146.68" x2="107.17" y2="149.36" stroke="#000" stroke-width="0.8"/>
<line x1="105.87" y1="146.68" x2="108.47" y2="146.68" stroke="#000" stroke-width="0.8"/>
<line x1="105.87" y1="149.36" x2="108.47" y2="149.36" stroke="#000" stroke-width="0.8"/>
<line x1="110.24" y1="143.13" x2="110.24" y2="145.81" stroke="#000" stroke-width="0.8"/>
<line x1="108.94" y1="143.13" x2="111.54" y2="143.13" stroke="#000" stroke-width="0.8"/>
<line x1="108.94" y1="145.81" x2="111.54" y2="145.81" stroke="#000" stroke-width="0.8"/>
<line x1="113.31" y1="139.96" x2="113.31" y2="142.63" stroke="#000" stroke-width="0.8"/>
<line x1="112.01" y1="139.96" x2="114.61" y2="139.96" stroke="#000" stroke-width="0.8"/>
<line x1="112.01" y1="142.63" x2="114.61" y2="142.63" stroke="#000" stroke-width="0.8"/>
<line x1="116.38" y1="136.54" x2="116.38" y2="139.2" stroke="#000" stroke-width="0.8"/>
<line x1="115.08" y1="136.54" x2="117.68" y2="136.54" stroke="#000" stroke-width="0.8"/>
<line x1="115.08" y1="139.2" x2="117.68" y2="139.2" stroke="#000" stroke-width="0.8"/>
<line x1="119.45" y1="132.84" x2="119.45" y2="135.5" stroke="#000" stroke-width="0.8"/>
<line x1="118.15" y1="132.84" x2="120.75" y2="132.84" stroke="#000" stroke-width="0.8"/>
<line x1="118.15" y1="135.5" x2="120.75" y2="135.5" stroke="#000" stroke-width="0.8"/>
<line x1="122.52" y1="129.26" x2="122.52" y2="131.91" stroke="#000" stroke-width="0.8"/>
<line x1="121.22" y1="129.26" x2="123.82" y2="129.26" stroke="#000" stroke-width="0.8"/>
<line x1="121.22" y1="131.91" x2="123.82" y2="131.91" stroke="#000" stroke-width="0.8"/>
<line x1="125.59" y1="124.86" x2="125.59" y2="127.5" stroke="#000" stroke-width="0.8"/>
<line x1="124.29" y1="124.86" x2="126.89" y2="124.86" stroke="#000" stroke-width="0.8"/>
<line x1="124.29" y1="127.5" x2="126.89" y2="127.5" stroke="#000" stroke-width="0.8"/>
<line x1="128.66" y1="120.78" x2="128.66" y2="123.42" stroke="#000" stroke-width="0.8"/>
<line x1="127.36" y1="120.78" x2="129.96" y2="120.78" stroke="#000" stroke-width="0.8"/>
<line x1="127.36" y1="123.42" x2="129.96" y2="123.42" stroke="#000" stroke-width="0.8"/>
<line x1="131.73" y1="116.37" x2="131.73" y2="119.01" stroke="#000" stroke-width="0.8"/>
<line x1="130.43" y1="116.37" x2="133.03" y2="116.37" stroke="#000" stroke-width="0.8"/>
<line x1="130.43" y1="119.01" x2="133.03" y2="119.01" stroke="#000" stroke-width="0.8"/>
<line x1="134.8" y1="112.27" x2="134.8" y2="114.9" stroke="#000" stroke-width="0.8"/>
<line x1="133.5" y1="112.27" x2="136.1" y2="112.27" stroke="#000" stroke-width="0.8"/>
<line x1="133.5" y1="114.9" x2="136.1" y2="114.9" stroke="#000" stroke-width="0.8"/>
<line x1="137.87" y1="108.33" x2="137.87" y2="110.95" stroke="#000" stroke-width="0.8"/>
<line x1="136.57" y1="108.33" x2="139.17" y2="108.33" stroke="#000" stroke-width="0.8"/>
<line x1="136.57" y1="110.95" x2="139.17" y2="110.95" stroke="#000" stroke-width="0.8"/>
<line x1="140.94" y1="104.32" x2="140.94" y2="106.94" stroke="#000" stroke-width="0.8"/>
<line x1="139.64" y1="104.32" x2="142.24" y2="104.32" stroke="#000" stroke-width="0.8"/>
<line x1="139.64" y1="106.94" x2="142.24" y2="106.94" stroke="#000" stroke-width="0.8"/>
<line x1="144.01" y1="100.46" x2="144.01" y2="103.07" stroke="#000" stroke-width="0.8"/>
<line x1="142.71" y1="100.46" x2="145.31" y2="100.46" stroke="#000" stroke-width="0.8"/>
<line x1="142.71" y1="103.07" x2="145.31" y2="103.07" stroke="#000" stroke-width="0.8"/>
<line x1="147.08" y1="96.47" x2="147.08" y2="99.08" stroke="#000" stroke-width="0.8"/>
<line x1="145.78" y1="96.47" x2="148.38" y2="96.47" stroke="#000" stroke-width="0.8"/>
<line x1="145.78" y1="99.08" x2="148.38" y2="99.08" stroke="#000" stroke-width="0.8"/>
<line x1="150.15" y1="92.47" x2="150.15" y2="95.08" stroke="#000" stroke-width="0.8"/>
<line x1="148.85" y1="92.47" x2="151.45" y2="92.47" stroke="#000" stroke-width="0.8"/>
<line x1="148.85" y1="95.08" x2="151.45" y2="95.08" stroke="#000" stroke-width="0.8"/>
<line x1="153.22" y1="88.51" x2="153.22" y2="91.31" stroke="#000" stroke-width="0.8"/>
<line x1="151.92" y1="88.51" x2="154.52" y2="88.51" stroke="#000" stroke-width="0.8"/>
<line x1="151.92" y1="91.31" x2="154.52" y2="91.31" stroke="#000" stroke-width="0.8"/>
<line x1="156.29" y1="84.72" x2="156.29" y2="87.7" stroke="#000" stroke-width="0.8"/>
<line x1="154.99" y1="84.72" x2="157.59" y2="84.72" stroke="#000" stroke-width="0.8"/>
<line x1="154.99" y1="87.7" x2="157.59" y2="87.7" stroke="#000" stroke-width="0.8"/>
<line x1="159.36" y1="81.56" x2="159.36" y2="84.72" stroke="#000" stroke-width="0.8"/>
<line x1="158.06" y1="81.56" x2="160.66" y2="81.56" stroke="#000" stroke-width="0.8"/>
<line x1="158.06" y1="84.72" x2="160.66" y2="84.72" stroke="#000" stroke-width="0.8"/>
<line x1="162.43" y1="78.4" x2="162.43" y2="81.74" stroke="#000" stroke-width="0.8"/>
<line x1="161.13" y1="78.4" x2="163.73" y2="78.4" stroke="#000" stroke-width="0.8"/>
<line x1="161.13" y1="81.74" x2="163.73" y2="81.74" stroke="#000" stroke-width="0.8"/>
<line x1="165.5" y1="75.23" x2="165.5" y2="78.77" stroke="#000" stroke-width="0.8"/>
<line x1="164.2" y1="75.23" x2="166.8" y2="75.23" stroke="#000" stroke-width="0.8"/>
<line x1="164.2" y1="78.77" x2="166.8" y2="78.77" stroke="#000" stroke-width="0.8"/>
<line x1="168.57" y1="72.07" x2="168.57" y2="75.79" stroke="#000" stroke-width="0.8"/>
<line x1="167.27" y1="72.07" x2="169.87" y2="72.07" stroke="#000" stroke-width="0.8"/>
<line x1="167.27" y1="75.79" x2="169.87" y2="75.79" stroke="#000" stroke-width="0.8"/>
<line x1="171.64" y1="68.91" x2="171.64" y2="72.81" stroke="#000" stroke-width="0.8"/>
<line x1="170.34" y1="68.91" x2="172.94" y2="68.91" stroke="#000" stroke-width="0.8"/>
<line x1="170.34" y1="72.81" x2="172.94" y2="72.81" stroke="#000" stroke-width="0.8"/>
<line x1="174.71" y1="66.19" x2="174.71" y2="70.27" stroke="#000" stroke-width="0.8"/>
<line x1="173.41" y1="66.19" x2="176.01" y2="66.19" stroke="#000" stroke-width="0.8"/>
<line x1="173.41" y1="70.27" x2="176.01" y2="70.27" stroke="#000" stroke-width="0.8"/>
<line x1="177.78" y1="63.34" x2="177.78" y2="67.61" stroke="#000" stroke-width="0.8"/>
<line x1="176.48" y1="63.34" x2="179.08" y2="63.34" stroke="#000" stroke-width="0.8"/>
<line x1="176.48" y1="67.61" x2="179.08" y2="67.61" stroke="#000" stroke-width="0.8"/>
<line x1="180.85" y1="60.5" x2="180.85" y2="64.95" stroke="#000" stroke-width="0.8"/>
<line x1="179.55" y1="60.5" x2="182.15" y2="60.5" stroke="#000" stroke-width="0.8"/>
<line x1="179.55" y1="64.95" x2="182.15" y2="64.95" stroke="#000" stroke-width="0.8"/>
<line x1="183.92" y1="59.43" x2="183.92" y2="64.07" stroke="#000" stroke-width="0.8"/>
<line x1="182.62" y1="59.43" x2="185.22" y2="59.43" stroke="#000" stroke-width="0.8"/>
<line x1="182.62" y1="64.07" x2="185.22" y2="64.07" stroke="#000" stroke-width="0.8"/>
<line x1="186.99" y1="58.37" x2="186.99" y2="63.19" stroke="#000" stroke-width="0.8"/>
<line x1="185.69" y1="58.37" x2="188.29" y2="58.37" stroke="#000" stroke-width="0.8"/>
<line x1="185.69" y1="63.19" x2="188.29" y2="63.19" stroke="#000" stroke-width="0.8"/>
<line x1="190.06" y1="57.45" x2="190.06" y2="62.45" stroke="#000" stroke-width="0.8"/>
<line x1="188.76" y1="57.45" x2="191.36" y2="57.45" stroke="#000" stroke-width="0.8"/>
<line x1="188.76" y1="62.45" x2="191.36" y2="62.45" stroke="#000" stroke-width="0.8"/>
<line x1="193.13" y1="56.58" x2="193.13" y2="61.66" stroke="#000" stroke-width="0.8"/>
<line x1="191.83" y1="56.58" x2="194.43" y2="56.58" stroke="#000" stroke-width="0.8"/>
<line x1="191.83" y1="61.66" x2="194.43" y2="61.66" stroke="#000" stroke-width="0.8"/>
<line x1="196.2" y1="55.71" x2="196.2" y2="60.88" stroke="#000" stroke-width="0.8"/>
<line x1="194.9" y1="55.71" x2="197.5" y2="55.71" stroke="#000" stroke-width="0.8"/>
<line x1="194.9" y1="60.88" x2="197.5" y2="60.88" stroke="#000" stroke-width="0.8"/>
<line x1="199.27" y1="54.84" x2="199.27" y2="60.09" stroke="#000" stroke-width="0.8"/>
<line x1="197.97" y1="54.84" x2="200.57" y2="54.84" stroke="#000" stroke-width="0.8"/>
<line x1="197.97" y1="60.09" x2="200.57" y2="60.09" stroke="#000" stroke-width="0.8"/>
<line x1="202.34" y1="54.09" x2="202.34" y2="59.43" stroke="#000" stroke-width="0.8"/>
<line x1="201.04" y1="54.09" x2="203.64" y2="54.09" stroke="#000" stroke-width="0.8"/>
<line x1="201.04" y1="59.43" x2="203.64" y2="59.43" stroke="#000" stroke-width="0.8"/>
<line x1="205.41" y1="53.5" x2="205.41" y2="58.92" stroke="#000" stroke-width="0.8"/>
<line x1="204.11" y1="53.5" x2="206.71" y2="53.5" stroke="#000" stroke-width="0.8"/>
<line x1="204.11" y1="58.92" x2="206.71" y2="58.92" stroke="#000" stroke-width="0.8"/>
<line x1="208.48" y1="52.91" x2="208.48" y2="58.41" stroke="#000" stroke-width="0.8"/>
<line x1="207.18" y1="52.91" x2="209.78" y2="52.91" stroke="#000" stroke-width="0.8"/>
<line x1="207.18" y1="58.41" x2="209.78" y2="58.41" stroke="#000" stroke-width="0.8"/>
<line x1="211.55" y1="52.32" x2="211.55" y2="57.91" stroke="#000" stroke-width="0.8"/>
<line x1="210.25" y1="52.32" x2="212.85" y2="52.32" stroke="#000" stroke-width="0.8"/>
<line x1="210.25" y1="57.91" x2="212.85" y2="57.91" stroke="#000" stroke-width="0.8"/>
<line x1="214.62" y1="51.74" x2="214.62" y2="57.4" stroke="#000" stroke-width="0.8"/>
<line x1="213.32" y1="51.74" x2="215.92" y2="51.74" stroke="#000" stroke-width="0.8"/>
<line x1="213.32" y1="57.4" x2="215.92" y2="57.4" stroke="#000" stroke-width="0.8"/>
<line x1="217.69" y1="51.21" x2="217.69" y2="56.96" stroke="#000" stroke-width="0.8"/>
<line x1="216.39" y1="51.21" x2="218.99" y2="51.21" stroke="#000" stroke-width="0.8"/>
<line x1="216.39" y1="56.96" x2="218.99" y2="56.96" stroke="#000" stroke-width="0.8"/>
<line x1="220.76" y1="50.7" x2="220.76" y2="56.53" stroke="#000" stroke-width="0.8"/>
<line x1="219.46" y1="50.7" x2="222.06" y2="50.7" stroke="#000" stroke-width="0.8"/>
<line x1="219.46" y1="56.53" x2="222.06" y2="56.53" stroke="#000" stroke-width="0.8"/>
<line x1="223.83" y1="50.18" x2="223.83" y2="56.1" stroke="#000" stroke-width="0.8"/>
<line x1="222.53" y1="50.18" x2="225.13" y2="50.18" stroke="#000" stroke-width="0.8"/>
<line x1="222.53" y1="56.1" x2="225.13" y2="56.1" stroke="#000" stroke-width="0.8"/>
<line x1="226.9" y1="49.67" x2="226.9" y2="55.67" stroke="#000" stroke-width="0.8"/>
<line x1="225.6" y1="49.67" x2="228.2" y2="49.67" stroke="#000" stroke-width="0.8"/>
<line x1="225.6" y1="55.67" x2="228.2" y2="55.67" stroke="#000" stroke-width="0.8"/>
<rect x="41.05" y="158.05" width="3.3" height="3.3" fill="#000"/>
<rect x="44.12" y="158.05" width="3.3" height="3.3" fill="#000"/>
<rect x="47.19" y="158.05" width="3.3" height="3.3" fill="#000"/>
<rect x="50.26" y="158.05" width="3.3" height="3.3" fill="#000"/>
<rect x="53.33" y="158.05" width="3.3" height="3.3" fill="#000"/>
<rect x="56.4" y="158.05" width="3.3" height="3.3" fill="#000"/>
<rect x="59.47" y="158.05" width="3.3" height="3.3" fill="#000"/>
<rect x="62.54" y="158.05" width="3.3" height="3.3" fill="#000"/>
<rect x="65.61" y="158.05" width="3.3" height="3.3" fill="#000"/>
<rect x="68.68" y="158.05" width="3.3" height="3.3" fill="#000"/>
<rect x="71.75" y="158.66" width="3.3" height="3.3" fill="#000"/>
<rect x="74.82" y="159.35" width="3.3" height="3.3" fill="#000"/>
<rect x="77.89" y="159.35" width="3.3" height="3.3" fill="#000"/>
<rect x="80.96" y="159.35" width="3.3" height="3.3" fill="#000"/>
<rect x="84.03" y="158.26" width="3.3" height="3.3" fill="#000"/>
<rect x="87.1" y="158.05" width="3.3" height="3.3" fill="#000"/>
<rect x="90.17" y="158.05" width="3.3" height="3.3" fill="#000"/>
<rect x="93.24" y="156.04" width="3.3" height="3.3" fill="#000"/>
<rect x="96.31" y="154" width="3.3" height="3.3" fill="#000"/>
<rect x="99.38" y="151.93" width="3.3" height="3.3" fill="#000"/>
<rect x="102.45" y="148.98" width="3.3" height="3.3" fill="#000"/>
<rect x="105.52" y="146.37" width="3.3" height="3.3" fill="#000"/>
<rect x="108.59" y="142.82" width="3.3" height="3.3" fill="#000"/>
<rect x="111.66" y="139.65" width="3.3" height="3.3" fill="#000"/>
<rect x="114.73" y="136.22" width="3.3" height="3.3" fill="#000"/>
<rect x="117.8" y="132.52" width="3.3" height="3.3" fill="#000"/>
<rect x="120.87" y="128.94" width="3.3" height="3.3" fill="#000"/>
<rect x="123.94" y="124.53" width="3.3" height="3.3" fill="#000"/>
<rect x="127.01" y="120.45" width="3.3" height="3.3" fill="#000"/>
<rect x="130.08" y="116.04" width="3.3" height="3.3" fill="#000"/>
<rect x="133.15" y="111.93" width="3.3" height="3.3" fill="#000"/>
<rect x="136.22" y="107.99" width="3.3" height="3.3" fill="#000"/>
<rect x="139.29" y="103.98" width="3.3" height="3.3" fill="#000"/>
<rect x="142.36" y="100.11" width="3.3" height="3.3" fill="#000"/>
<rect x="145.43" y="96.13" width="3.3" height="3.3" fill="#000"/>
<rect x="148.5" y="92.13" width="3.3" height="3.3" fill="#000"/>
<rect x="151.57" y="88.26" width="3.3" height="3.3" fill="#000"/>
<rect x="154.64" y="84.56" width="3.3" height="3.3" fill="#000"/>
<rect x="157.71" y="81.49" width="3.3" height="3.3" fill="#000"/>
<rect x="160.78" y="78.42" width="3.3" height="3.3" fill="#000"/>
<rect x="163.85" y="75.35" width="3.3" height="3.3" fill="#000"/>
<rect x="166.92" y="72.28" width="3.3" height="3.3" fill="#000"/>
<rect x="169.99" y="69.21" width="3.3" height="3.3" fill="#000"/>
<rect x="173.06" y="66.58" width="3.3" height="3.3" fill="#000"/>
<rect x="176.13" y="63.82" width="3.3" height="3.3" fill="#000"/>
<rect x="179.2" y="61.08" width="3.3" height="3.3" fill="#000"/>
<rect x="182.27" y="60.1" width="3.3" height="3.3" fill="#000"/>
<rect x="185.34" y="59.13" width="3.3" height="3.3" fill="#000"/>
<rect x="188.41" y="58.3" width="3.3" height="3.3" fill="#000"/>
<rect x="191.48" y="57.47" width="3.3" height="3.3" fill="#000"/>
<rect x="194.55" y="56.64" width="3.3" height="3.3" fill="#000"/>
<rect x="197.62" y="55.82" width="3.3" height="3.3" fill="#000"/>
<rect x="200.69" y="55.11" width="3.3" height="3.3" fill="#000"/>
<rect x="203.76" y="54.56" width="3.3" height="3.3" fill="#000"/>
<rect x="206.83" y="54.01" width="3.3" height="3.3" fill="#000"/>
<rect x="209.9" y="53.47" width="3.3" height="3.3" fill="#000"/>
<rect x="212.97" y="52.92" width="3.3" height="3.3" fill="#000"/>
<rect x="216.04" y="52.44" width="3.3" height="3.3" fill="#000"/>
<rect x="219.11" y="51.96" width="3.3" height="3.3" fill="#000"/>
<rect x="222.18" y="51.49" width="3.3" height="3.3" fill="#000"/>
<rect x="225.25" y="51.02" width="3.3" height="3.3" fill="#000"/>
<path d="M161 136L162.9 137.9L161 139.8L159.1 137.9Z" fill="#fff" stroke="#000" stroke-width="0.95"/>
<text x="167.1" y="140.8" font-size="8.5" font-weight="bold" text-anchor="start">Ctrl</text>
<rect x="159.5" y="146.2" width="3" height="3" fill="#000"/>
<text x="167.1" y="150.6" font-size="8.5" font-weight="bold" text-anchor="start">a-PDI</text>
<text x="275.6" y="15.6" font-size="18.2" font-weight="bold" text-anchor="start">B</text>
<line x1="315.3" y1="31" x2="315.3" y2="156" stroke="#000" stroke-width="1.2"/>
<line x1="312.8" y1="155.5" x2="315.3" y2="155.5" stroke="#000" stroke-width="0.9"/>
<text x="310.1" y="158.5" font-size="7.9" font-weight="bold" text-anchor="end">50</text>
<line x1="312.8" y1="130.7" x2="315.3" y2="130.7" stroke="#000" stroke-width="0.9"/>
<text x="310.1" y="133.7" font-size="7.9" font-weight="bold" text-anchor="end">60</text>
<line x1="312.8" y1="105.9" x2="315.3" y2="105.9" stroke="#000" stroke-width="0.9"/>
<text x="310.1" y="108.9" font-size="7.9" font-weight="bold" text-anchor="end">70</text>
<line x1="312.8" y1="81.1" x2="315.3" y2="81.1" stroke="#000" stroke-width="0.9"/>
<text x="310.1" y="84.1" font-size="7.9" font-weight="bold" text-anchor="end">80</text>
<line x1="312.8" y1="56.3" x2="315.3" y2="56.3" stroke="#000" stroke-width="0.9"/>
<text x="310.1" y="59.3" font-size="7.9" font-weight="bold" text-anchor="end">90</text>
<line x1="312.8" y1="31.5" x2="315.3" y2="31.5" stroke="#000" stroke-width="0.9"/>
<text x="310.1" y="34.5" font-size="7.9" font-weight="bold" text-anchor="end">&#x2007;00</text>
<path d="M300.12 34.5 L299.1 34.5 L299.1 30.55 Q298.5 30.95 297.87 31.1 L297.87 30.16 Q298.5 29.92 298.98 29.44 Q299.29 29.13 299.37 28.84 L300.12 28.84Z" fill="#000" stroke="#000" stroke-width="0.28"/>
<line x1="321" y1="162.1" x2="491.6" y2="162.1" stroke="#000" stroke-width="1.2"/>
<line x1="322" y1="162.1" x2="322" y2="164.2" stroke="#000" stroke-width="0.9"/>
<text x="322" y="171.9" font-size="7.9" font-weight="bold" text-anchor="middle">0</text>
<line x1="348.08" y1="162.1" x2="348.08" y2="164.2" stroke="#000" stroke-width="0.9"/>
<line x1="374.16" y1="162.1" x2="374.16" y2="164.2" stroke="#000" stroke-width="0.9"/>
<text x="374.16" y="171.9" font-size="7.9" font-weight="bold" text-anchor="middle">20</text>
<line x1="400.24" y1="162.1" x2="400.24" y2="164.2" stroke="#000" stroke-width="0.9"/>
<line x1="426.32" y1="162.1" x2="426.32" y2="164.2" stroke="#000" stroke-width="0.9"/>
<text x="426.32" y="171.9" font-size="7.9" font-weight="bold" text-anchor="middle">40</text>
<line x1="452.4" y1="162.1" x2="452.4" y2="164.2" stroke="#000" stroke-width="0.9"/>
<line x1="478.48" y1="162.1" x2="478.48" y2="164.2" stroke="#000" stroke-width="0.9"/>
<text x="478.48" y="171.9" font-size="7.9" font-weight="bold" text-anchor="middle">60</text>
<text x="406.3" y="186.6" font-size="9" font-weight="bold" text-anchor="middle">Time (min)</text>
<text x="290.4" y="91.1" font-size="9.2" font-weight="bold" text-anchor="middle" transform="rotate(-90 290.4 91.1)">PS flipped (%)</text>
<polyline points="322,107.64 348.08,62.75 374.16,53.57 400.24,43.16 426.32,39.68 452.4,40.68 478.48,41.67" fill="none" stroke="#000" stroke-width="1.3"/>
<path d="M322 105.44L324.2 107.64L322 109.84L319.8 107.64Z" fill="#fff" stroke="#000" stroke-width="0.95"/>
<path d="M348.08 60.55L350.28 62.75L348.08 64.95L345.88 62.75Z" fill="#fff" stroke="#000" stroke-width="0.95"/>
<path d="M374.16 51.37L376.36 53.57L374.16 55.77L371.96 53.57Z" fill="#fff" stroke="#000" stroke-width="0.95"/>
<path d="M400.24 40.96L402.44 43.16L400.24 45.36L398.04 43.16Z" fill="#fff" stroke="#000" stroke-width="0.95"/>
<path d="M426.32 37.48L428.52 39.68L426.32 41.88L424.12 39.68Z" fill="#fff" stroke="#000" stroke-width="0.95"/>
<path d="M452.4 38.48L454.6 40.68L452.4 42.88L450.2 40.68Z" fill="#fff" stroke="#000" stroke-width="0.95"/>
<path d="M478.48 39.47L480.68 41.67L478.48 43.87L476.28 41.67Z" fill="#fff" stroke="#000" stroke-width="0.95"/>
<polyline points="322,134.92 348.08,76.14 374.16,52.83 400.24,47.87 426.32,38.94 452.4,38.2 478.48,36.96" fill="none" stroke="#000" stroke-width="1.25" stroke-dasharray="1.3 1.7"/>
<rect x="320.15" y="133.07" width="3.7" height="3.7" fill="#000"/>
<rect x="346.23" y="74.29" width="3.7" height="3.7" fill="#000"/>
<rect x="372.31" y="50.98" width="3.7" height="3.7" fill="#000"/>
<rect x="398.39" y="46.02" width="3.7" height="3.7" fill="#000"/>
<rect x="424.47" y="37.09" width="3.7" height="3.7" fill="#000"/>
<rect x="450.55" y="36.35" width="3.7" height="3.7" fill="#000"/>
<rect x="476.63" y="35.11" width="3.7" height="3.7" fill="#000"/>
<path d="M425.9 128.1L427.9 130.1L425.9 132.1L423.9 130.1Z" fill="#fff" stroke="#000" stroke-width="1"/>
<text x="432.1" y="132.9" font-size="8.7" font-weight="bold" text-anchor="start">Ctrl</text>
<rect x="424.4" y="142.3" width="3.4" height="3.4" fill="#000"/>
<text x="432.1" y="146.8" font-size="8.7" font-weight="bold" text-anchor="start">a-PDI</text>
<text x="1.2" y="215" font-size="19.2" font-weight="bold" text-anchor="start">C</text>
<line x1="42.4" y1="231.5" x2="42.4" y2="370" stroke="#000" stroke-width="1.2"/>
<line x1="40.2" y1="368.6" x2="42.3" y2="368.6" stroke="#000" stroke-width="0.9"/>
<text x="39.8" y="371.5" font-size="7.7" font-weight="bold" text-anchor="end">0</text>
<line x1="40.2" y1="354.35" x2="42.3" y2="354.35" stroke="#000" stroke-width="0.9"/>
<line x1="40.2" y1="340.1" x2="42.3" y2="340.1" stroke="#000" stroke-width="0.9"/>
<text x="39.8" y="343" font-size="7.7" font-weight="bold" text-anchor="end">25</text>
<line x1="40.2" y1="325.85" x2="42.3" y2="325.85" stroke="#000" stroke-width="0.9"/>
<line x1="40.2" y1="311.6" x2="42.3" y2="311.6" stroke="#000" stroke-width="0.9"/>
<text x="39.8" y="314.5" font-size="7.7" font-weight="bold" text-anchor="end">50</text>
<line x1="40.2" y1="297.35" x2="42.3" y2="297.35" stroke="#000" stroke-width="0.9"/>
<line x1="40.2" y1="283.1" x2="42.3" y2="283.1" stroke="#000" stroke-width="0.9"/>
<text x="39.8" y="286" font-size="7.7" font-weight="bold" text-anchor="end">75</text>
<line x1="40.2" y1="268.85" x2="42.3" y2="268.85" stroke="#000" stroke-width="0.9"/>
<line x1="40.2" y1="254.6" x2="42.3" y2="254.6" stroke="#000" stroke-width="0.9"/>
<text x="39.8" y="257.5" font-size="7.7" font-weight="bold" text-anchor="end">&#x2007;00</text>
<path d="M30.07 257.5 L29.07 257.5 L29.07 253.65 Q28.5 254.03 27.88 254.19 L27.88 253.26 Q28.5 253.03 28.96 252.57 Q29.27 252.26 29.34 251.99 L30.07 251.99Z" fill="#000" stroke="#000" stroke-width="0.28"/>
<line x1="40.2" y1="240.35" x2="42.3" y2="240.35" stroke="#000" stroke-width="0.9"/>
<line x1="41.8" y1="369.8" x2="242.3" y2="369.8" stroke="#000" stroke-width="1.2"/>
<line x1="42.5" y1="369.8" x2="42.5" y2="371.9" stroke="#000" stroke-width="0.9"/>
<text x="42.5" y="380" font-size="7.8" font-weight="bold" text-anchor="middle">0</text>
<line x1="59.1" y1="369.8" x2="59.1" y2="371.9" stroke="#000" stroke-width="0.9"/>
<line x1="75.7" y1="369.8" x2="75.7" y2="371.9" stroke="#000" stroke-width="0.9"/>
<text x="75.7" y="380" font-size="7.8" font-weight="bold" text-anchor="middle">2</text>
<line x1="92.3" y1="369.8" x2="92.3" y2="371.9" stroke="#000" stroke-width="0.9"/>
<line x1="108.9" y1="369.8" x2="108.9" y2="371.9" stroke="#000" stroke-width="0.9"/>
<text x="108.9" y="380" font-size="7.8" font-weight="bold" text-anchor="middle">4</text>
<line x1="125.5" y1="369.8" x2="125.5" y2="371.9" stroke="#000" stroke-width="0.9"/>
<line x1="142.1" y1="369.8" x2="142.1" y2="371.9" stroke="#000" stroke-width="0.9"/>
<text x="142.1" y="380" font-size="7.8" font-weight="bold" text-anchor="middle">6</text>
<line x1="158.7" y1="369.8" x2="158.7" y2="371.9" stroke="#000" stroke-width="0.9"/>
<line x1="175.3" y1="369.8" x2="175.3" y2="371.9" stroke="#000" stroke-width="0.9"/>
<text x="175.3" y="380" font-size="7.8" font-weight="bold" text-anchor="middle">8</text>
<line x1="191.9" y1="369.8" x2="191.9" y2="371.9" stroke="#000" stroke-width="0.9"/>
<line x1="208.5" y1="369.8" x2="208.5" y2="371.9" stroke="#000" stroke-width="0.9"/>
<text x="208.5" y="380" font-size="7.8" font-weight="bold" text-anchor="middle">&#x2007;0</text>
<path d="M207.32 380 L206.31 380 L206.31 376.1 Q205.72 376.49 205.1 376.65 L205.1 375.71 Q205.72 375.48 206.19 375.01 Q206.5 374.7 206.58 374.42 L207.32 374.42Z" fill="#000" stroke="#000" stroke-width="0.28"/>
<line x1="225.1" y1="369.8" x2="225.1" y2="371.9" stroke="#000" stroke-width="0.9"/>
<line x1="241.7" y1="369.8" x2="241.7" y2="371.9" stroke="#000" stroke-width="0.9"/>
<text x="241.7" y="380" font-size="7.8" font-weight="bold" text-anchor="middle">&#x2007;2</text>
<path d="M240.52 380 L239.51 380 L239.51 376.1 Q238.92 376.49 238.3 376.65 L238.3 375.71 Q238.92 375.48 239.39 375.01 Q239.7 374.7 239.78 374.42 L240.52 374.42Z" fill="#000" stroke="#000" stroke-width="0.28"/>
<text x="142.5" y="397.6" font-size="9" font-weight="bold" text-anchor="middle">Time (min)</text>
<text x="13.4" y="298.25" font-size="9.2" font-weight="bold" text-anchor="middle" transform="rotate(-90 13.4 298.25)">Normalized residual fluorescence</text>
<text x="25" y="298.7" font-size="9.2" font-weight="bold" text-anchor="middle" transform="rotate(-90 25 298.7)">(%)</text>
<text x="67.8" y="237.9" font-size="8.7" font-weight="bold" text-anchor="start">dithionite</text>
<line x1="78.9" y1="239.2" x2="78.9" y2="247.5" stroke="#000" stroke-width="1.25"/>
<path d="M77 246.2L80.8 246.2L78.9 252.2Z" fill="#000"/>
<polyline points="42.5,243.8 46.65,246.8 50.8,251.1 54.95,254.6 59.1,258.6 63.25,255.5 67.4,261.3 71.55,261.8 75.7,262.8 79.85,281.5 84,269.1 88.15,264.2 92.3,251.2 96.45,256.5 100.6,257.1 104.75,259.3 108.9,254.1 113.05,255 117.2,255.8 121.35,257.1 125.5,254.9 129.65,259.3 133.8,263.8 137.95,267.5 142.1,263.1 146.25,264.1 150.4,268.6 154.55,268.6 158.7,274.6 162.85,271.6 167,273.8 171.15,277.5 175.3,278.3 179.45,279.8 183.6,282 187.75,284.2 191.9,288 196.05,288.8 200.2,286.9 204.35,291.6 208.5,293.8 212.65,295.3 216.8,296 220.95,296.8 225.1,297.5 229.25,298.3 233.4,299 237.55,299.8 241.7,302.7" fill="none" stroke="#000" stroke-width="0.85" stroke-dasharray="0.9 1.6"/>
<line x1="42.5" y1="241.6" x2="42.5" y2="246" stroke="#000" stroke-width="0.7"/>
<line x1="41.2" y1="241.6" x2="43.8" y2="241.6" stroke="#000" stroke-width="0.7"/>
<line x1="41.2" y1="246" x2="43.8" y2="246" stroke="#000" stroke-width="0.7"/>
<line x1="46.65" y1="244.6" x2="46.65" y2="249" stroke="#000" stroke-width="0.7"/>
<line x1="45.35" y1="244.6" x2="47.95" y2="244.6" stroke="#000" stroke-width="0.7"/>
<line x1="45.35" y1="249" x2="47.95" y2="249" stroke="#000" stroke-width="0.7"/>
<line x1="50.8" y1="248.9" x2="50.8" y2="253.3" stroke="#000" stroke-width="0.7"/>
<line x1="49.5" y1="248.9" x2="52.1" y2="248.9" stroke="#000" stroke-width="0.7"/>
<line x1="49.5" y1="253.3" x2="52.1" y2="253.3" stroke="#000" stroke-width="0.7"/>
<line x1="54.95" y1="252.4" x2="54.95" y2="256.8" stroke="#000" stroke-width="0.7"/>
<line x1="53.65" y1="252.4" x2="56.25" y2="252.4" stroke="#000" stroke-width="0.7"/>
<line x1="53.65" y1="256.8" x2="56.25" y2="256.8" stroke="#000" stroke-width="0.7"/>
<line x1="59.1" y1="256.4" x2="59.1" y2="260.8" stroke="#000" stroke-width="0.7"/>
<line x1="57.8" y1="256.4" x2="60.4" y2="256.4" stroke="#000" stroke-width="0.7"/>
<line x1="57.8" y1="260.8" x2="60.4" y2="260.8" stroke="#000" stroke-width="0.7"/>
<line x1="63.25" y1="253.3" x2="63.25" y2="257.7" stroke="#000" stroke-width="0.7"/>
<line x1="61.95" y1="253.3" x2="64.55" y2="253.3" stroke="#000" stroke-width="0.7"/>
<line x1="61.95" y1="257.7" x2="64.55" y2="257.7" stroke="#000" stroke-width="0.7"/>
<line x1="67.4" y1="259.1" x2="67.4" y2="263.5" stroke="#000" stroke-width="0.7"/>
<line x1="66.1" y1="259.1" x2="68.7" y2="259.1" stroke="#000" stroke-width="0.7"/>
<line x1="66.1" y1="263.5" x2="68.7" y2="263.5" stroke="#000" stroke-width="0.7"/>
<line x1="71.55" y1="259.6" x2="71.55" y2="264" stroke="#000" stroke-width="0.7"/>
<line x1="70.25" y1="259.6" x2="72.85" y2="259.6" stroke="#000" stroke-width="0.7"/>
<line x1="70.25" y1="264" x2="72.85" y2="264" stroke="#000" stroke-width="0.7"/>
<line x1="75.7" y1="260.6" x2="75.7" y2="265" stroke="#000" stroke-width="0.7"/>
<line x1="74.4" y1="260.6" x2="77" y2="260.6" stroke="#000" stroke-width="0.7"/>
<line x1="74.4" y1="265" x2="77" y2="265" stroke="#000" stroke-width="0.7"/>
<line x1="79.85" y1="279.3" x2="79.85" y2="283.7" stroke="#000" stroke-width="0.7"/>
<line x1="78.55" y1="279.3" x2="81.15" y2="279.3" stroke="#000" stroke-width="0.7"/>
<line x1="78.55" y1="283.7" x2="81.15" y2="283.7" stroke="#000" stroke-width="0.7"/>
<line x1="84" y1="266.9" x2="84" y2="271.3" stroke="#000" stroke-width="0.7"/>
<line x1="82.7" y1="266.9" x2="85.3" y2="266.9" stroke="#000" stroke-width="0.7"/>
<line x1="82.7" y1="271.3" x2="85.3" y2="271.3" stroke="#000" stroke-width="0.7"/>
<line x1="88.15" y1="262" x2="88.15" y2="266.4" stroke="#000" stroke-width="0.7"/>
<line x1="86.85" y1="262" x2="89.45" y2="262" stroke="#000" stroke-width="0.7"/>
<line x1="86.85" y1="266.4" x2="89.45" y2="266.4" stroke="#000" stroke-width="0.7"/>
<line x1="92.3" y1="249" x2="92.3" y2="253.4" stroke="#000" stroke-width="0.7"/>
<line x1="91" y1="249" x2="93.6" y2="249" stroke="#000" stroke-width="0.7"/>
<line x1="91" y1="253.4" x2="93.6" y2="253.4" stroke="#000" stroke-width="0.7"/>
<line x1="96.45" y1="254.3" x2="96.45" y2="258.7" stroke="#000" stroke-width="0.7"/>
<line x1="95.15" y1="254.3" x2="97.75" y2="254.3" stroke="#000" stroke-width="0.7"/>
<line x1="95.15" y1="258.7" x2="97.75" y2="258.7" stroke="#000" stroke-width="0.7"/>
<line x1="100.6" y1="254.9" x2="100.6" y2="259.3" stroke="#000" stroke-width="0.7"/>
<line x1="99.3" y1="254.9" x2="101.9" y2="254.9" stroke="#000" stroke-width="0.7"/>
<line x1="99.3" y1="259.3" x2="101.9" y2="259.3" stroke="#000" stroke-width="0.7"/>
<line x1="104.75" y1="257.1" x2="104.75" y2="261.5" stroke="#000" stroke-width="0.7"/>
<line x1="103.45" y1="257.1" x2="106.05" y2="257.1" stroke="#000" stroke-width="0.7"/>
<line x1="103.45" y1="261.5" x2="106.05" y2="261.5" stroke="#000" stroke-width="0.7"/>
<line x1="108.9" y1="251.9" x2="108.9" y2="256.3" stroke="#000" stroke-width="0.7"/>
<line x1="107.6" y1="251.9" x2="110.2" y2="251.9" stroke="#000" stroke-width="0.7"/>
<line x1="107.6" y1="256.3" x2="110.2" y2="256.3" stroke="#000" stroke-width="0.7"/>
<line x1="113.05" y1="252.8" x2="113.05" y2="257.2" stroke="#000" stroke-width="0.7"/>
<line x1="111.75" y1="252.8" x2="114.35" y2="252.8" stroke="#000" stroke-width="0.7"/>
<line x1="111.75" y1="257.2" x2="114.35" y2="257.2" stroke="#000" stroke-width="0.7"/>
<line x1="117.2" y1="253.6" x2="117.2" y2="258" stroke="#000" stroke-width="0.7"/>
<line x1="115.9" y1="253.6" x2="118.5" y2="253.6" stroke="#000" stroke-width="0.7"/>
<line x1="115.9" y1="258" x2="118.5" y2="258" stroke="#000" stroke-width="0.7"/>
<line x1="121.35" y1="254.9" x2="121.35" y2="259.3" stroke="#000" stroke-width="0.7"/>
<line x1="120.05" y1="254.9" x2="122.65" y2="254.9" stroke="#000" stroke-width="0.7"/>
<line x1="120.05" y1="259.3" x2="122.65" y2="259.3" stroke="#000" stroke-width="0.7"/>
<line x1="125.5" y1="252.7" x2="125.5" y2="257.1" stroke="#000" stroke-width="0.7"/>
<line x1="124.2" y1="252.7" x2="126.8" y2="252.7" stroke="#000" stroke-width="0.7"/>
<line x1="124.2" y1="257.1" x2="126.8" y2="257.1" stroke="#000" stroke-width="0.7"/>
<line x1="129.65" y1="257.1" x2="129.65" y2="261.5" stroke="#000" stroke-width="0.7"/>
<line x1="128.35" y1="257.1" x2="130.95" y2="257.1" stroke="#000" stroke-width="0.7"/>
<line x1="128.35" y1="261.5" x2="130.95" y2="261.5" stroke="#000" stroke-width="0.7"/>
<line x1="133.8" y1="261.6" x2="133.8" y2="266" stroke="#000" stroke-width="0.7"/>
<line x1="132.5" y1="261.6" x2="135.1" y2="261.6" stroke="#000" stroke-width="0.7"/>
<line x1="132.5" y1="266" x2="135.1" y2="266" stroke="#000" stroke-width="0.7"/>
<line x1="137.95" y1="265.3" x2="137.95" y2="269.7" stroke="#000" stroke-width="0.7"/>
<line x1="136.65" y1="265.3" x2="139.25" y2="265.3" stroke="#000" stroke-width="0.7"/>
<line x1="136.65" y1="269.7" x2="139.25" y2="269.7" stroke="#000" stroke-width="0.7"/>
<line x1="142.1" y1="260.9" x2="142.1" y2="265.3" stroke="#000" stroke-width="0.7"/>
<line x1="140.8" y1="260.9" x2="143.4" y2="260.9" stroke="#000" stroke-width="0.7"/>
<line x1="140.8" y1="265.3" x2="143.4" y2="265.3" stroke="#000" stroke-width="0.7"/>
<line x1="146.25" y1="261.9" x2="146.25" y2="266.3" stroke="#000" stroke-width="0.7"/>
<line x1="144.95" y1="261.9" x2="147.55" y2="261.9" stroke="#000" stroke-width="0.7"/>
<line x1="144.95" y1="266.3" x2="147.55" y2="266.3" stroke="#000" stroke-width="0.7"/>
<line x1="150.4" y1="266.4" x2="150.4" y2="270.8" stroke="#000" stroke-width="0.7"/>
<line x1="149.1" y1="266.4" x2="151.7" y2="266.4" stroke="#000" stroke-width="0.7"/>
<line x1="149.1" y1="270.8" x2="151.7" y2="270.8" stroke="#000" stroke-width="0.7"/>
<line x1="154.55" y1="266.4" x2="154.55" y2="270.8" stroke="#000" stroke-width="0.7"/>
<line x1="153.25" y1="266.4" x2="155.85" y2="266.4" stroke="#000" stroke-width="0.7"/>
<line x1="153.25" y1="270.8" x2="155.85" y2="270.8" stroke="#000" stroke-width="0.7"/>
<line x1="158.7" y1="272.4" x2="158.7" y2="276.8" stroke="#000" stroke-width="0.7"/>
<line x1="157.4" y1="272.4" x2="160" y2="272.4" stroke="#000" stroke-width="0.7"/>
<line x1="157.4" y1="276.8" x2="160" y2="276.8" stroke="#000" stroke-width="0.7"/>
<line x1="162.85" y1="269.4" x2="162.85" y2="273.8" stroke="#000" stroke-width="0.7"/>
<line x1="161.55" y1="269.4" x2="164.15" y2="269.4" stroke="#000" stroke-width="0.7"/>
<line x1="161.55" y1="273.8" x2="164.15" y2="273.8" stroke="#000" stroke-width="0.7"/>
<line x1="167" y1="271.6" x2="167" y2="276" stroke="#000" stroke-width="0.7"/>
<line x1="165.7" y1="271.6" x2="168.3" y2="271.6" stroke="#000" stroke-width="0.7"/>
<line x1="165.7" y1="276" x2="168.3" y2="276" stroke="#000" stroke-width="0.7"/>
<line x1="171.15" y1="275.3" x2="171.15" y2="279.7" stroke="#000" stroke-width="0.7"/>
<line x1="169.85" y1="275.3" x2="172.45" y2="275.3" stroke="#000" stroke-width="0.7"/>
<line x1="169.85" y1="279.7" x2="172.45" y2="279.7" stroke="#000" stroke-width="0.7"/>
<line x1="175.3" y1="276.1" x2="175.3" y2="280.5" stroke="#000" stroke-width="0.7"/>
<line x1="174" y1="276.1" x2="176.6" y2="276.1" stroke="#000" stroke-width="0.7"/>
<line x1="174" y1="280.5" x2="176.6" y2="280.5" stroke="#000" stroke-width="0.7"/>
<line x1="179.45" y1="277.6" x2="179.45" y2="282" stroke="#000" stroke-width="0.7"/>
<line x1="178.15" y1="277.6" x2="180.75" y2="277.6" stroke="#000" stroke-width="0.7"/>
<line x1="178.15" y1="282" x2="180.75" y2="282" stroke="#000" stroke-width="0.7"/>
<line x1="183.6" y1="279.8" x2="183.6" y2="284.2" stroke="#000" stroke-width="0.7"/>
<line x1="182.3" y1="279.8" x2="184.9" y2="279.8" stroke="#000" stroke-width="0.7"/>
<line x1="182.3" y1="284.2" x2="184.9" y2="284.2" stroke="#000" stroke-width="0.7"/>
<line x1="187.75" y1="282" x2="187.75" y2="286.4" stroke="#000" stroke-width="0.7"/>
<line x1="186.45" y1="282" x2="189.05" y2="282" stroke="#000" stroke-width="0.7"/>
<line x1="186.45" y1="286.4" x2="189.05" y2="286.4" stroke="#000" stroke-width="0.7"/>
<line x1="191.9" y1="285.8" x2="191.9" y2="290.2" stroke="#000" stroke-width="0.7"/>
<line x1="190.6" y1="285.8" x2="193.2" y2="285.8" stroke="#000" stroke-width="0.7"/>
<line x1="190.6" y1="290.2" x2="193.2" y2="290.2" stroke="#000" stroke-width="0.7"/>
<line x1="196.05" y1="286.6" x2="196.05" y2="291" stroke="#000" stroke-width="0.7"/>
<line x1="194.75" y1="286.6" x2="197.35" y2="286.6" stroke="#000" stroke-width="0.7"/>
<line x1="194.75" y1="291" x2="197.35" y2="291" stroke="#000" stroke-width="0.7"/>
<line x1="200.2" y1="284.7" x2="200.2" y2="289.1" stroke="#000" stroke-width="0.7"/>
<line x1="198.9" y1="284.7" x2="201.5" y2="284.7" stroke="#000" stroke-width="0.7"/>
<line x1="198.9" y1="289.1" x2="201.5" y2="289.1" stroke="#000" stroke-width="0.7"/>
<line x1="204.35" y1="289.4" x2="204.35" y2="293.8" stroke="#000" stroke-width="0.7"/>
<line x1="203.05" y1="289.4" x2="205.65" y2="289.4" stroke="#000" stroke-width="0.7"/>
<line x1="203.05" y1="293.8" x2="205.65" y2="293.8" stroke="#000" stroke-width="0.7"/>
<line x1="208.5" y1="291.6" x2="208.5" y2="296" stroke="#000" stroke-width="0.7"/>
<line x1="207.2" y1="291.6" x2="209.8" y2="291.6" stroke="#000" stroke-width="0.7"/>
<line x1="207.2" y1="296" x2="209.8" y2="296" stroke="#000" stroke-width="0.7"/>
<line x1="212.65" y1="293.1" x2="212.65" y2="297.5" stroke="#000" stroke-width="0.7"/>
<line x1="211.35" y1="293.1" x2="213.95" y2="293.1" stroke="#000" stroke-width="0.7"/>
<line x1="211.35" y1="297.5" x2="213.95" y2="297.5" stroke="#000" stroke-width="0.7"/>
<line x1="216.8" y1="293.8" x2="216.8" y2="298.2" stroke="#000" stroke-width="0.7"/>
<line x1="215.5" y1="293.8" x2="218.1" y2="293.8" stroke="#000" stroke-width="0.7"/>
<line x1="215.5" y1="298.2" x2="218.1" y2="298.2" stroke="#000" stroke-width="0.7"/>
<line x1="220.95" y1="294.6" x2="220.95" y2="299" stroke="#000" stroke-width="0.7"/>
<line x1="219.65" y1="294.6" x2="222.25" y2="294.6" stroke="#000" stroke-width="0.7"/>
<line x1="219.65" y1="299" x2="222.25" y2="299" stroke="#000" stroke-width="0.7"/>
<line x1="225.1" y1="295.3" x2="225.1" y2="299.7" stroke="#000" stroke-width="0.7"/>
<line x1="223.8" y1="295.3" x2="226.4" y2="295.3" stroke="#000" stroke-width="0.7"/>
<line x1="223.8" y1="299.7" x2="226.4" y2="299.7" stroke="#000" stroke-width="0.7"/>
<line x1="229.25" y1="296.1" x2="229.25" y2="300.5" stroke="#000" stroke-width="0.7"/>
<line x1="227.95" y1="296.1" x2="230.55" y2="296.1" stroke="#000" stroke-width="0.7"/>
<line x1="227.95" y1="300.5" x2="230.55" y2="300.5" stroke="#000" stroke-width="0.7"/>
<line x1="233.4" y1="296.8" x2="233.4" y2="301.2" stroke="#000" stroke-width="0.7"/>
<line x1="232.1" y1="296.8" x2="234.7" y2="296.8" stroke="#000" stroke-width="0.7"/>
<line x1="232.1" y1="301.2" x2="234.7" y2="301.2" stroke="#000" stroke-width="0.7"/>
<line x1="237.55" y1="297.6" x2="237.55" y2="302" stroke="#000" stroke-width="0.7"/>
<line x1="236.25" y1="297.6" x2="238.85" y2="297.6" stroke="#000" stroke-width="0.7"/>
<line x1="236.25" y1="302" x2="238.85" y2="302" stroke="#000" stroke-width="0.7"/>
<line x1="241.7" y1="300.5" x2="241.7" y2="304.9" stroke="#000" stroke-width="0.7"/>
<line x1="240.4" y1="300.5" x2="243" y2="300.5" stroke="#000" stroke-width="0.7"/>
<line x1="240.4" y1="304.9" x2="243" y2="304.9" stroke="#000" stroke-width="0.7"/>
<path d="M42.5 242.1L44.2 243.8L42.5 245.5L40.8 243.8Z" fill="#fff" stroke="#000" stroke-width="0.8"/>
<path d="M46.65 245.1L48.35 246.8L46.65 248.5L44.95 246.8Z" fill="#fff" stroke="#000" stroke-width="0.8"/>
<path d="M50.8 249.4L52.5 251.1L50.8 252.8L49.1 251.1Z" fill="#fff" stroke="#000" stroke-width="0.8"/>
<path d="M54.95 252.9L56.65 254.6L54.95 256.3L53.25 254.6Z" fill="#fff" stroke="#000" stroke-width="0.8"/>
<path d="M59.1 256.9L60.8 258.6L59.1 260.3L57.4 258.6Z" fill="#fff" stroke="#000" stroke-width="0.8"/>
<path d="M63.25 253.8L64.95 255.5L63.25 257.2L61.55 255.5Z" fill="#fff" stroke="#000" stroke-width="0.8"/>
<path d="M67.4 259.6L69.1 261.3L67.4 263L65.7 261.3Z" fill="#fff" stroke="#000" stroke-width="0.8"/>
<path d="M71.55 260.1L73.25 261.8L71.55 263.5L69.85 261.8Z" fill="#fff" stroke="#000" stroke-width="0.8"/>
<path d="M75.7 261.1L77.4 262.8L75.7 264.5L74 262.8Z" fill="#fff" stroke="#000" stroke-width="0.8"/>
<path d="M79.85 279.8L81.55 281.5L79.85 283.2L78.15 281.5Z" fill="#fff" stroke="#000" stroke-width="0.8"/>
<path d="M84 267.4L85.7 269.1L84 270.8L82.3 269.1Z" fill="#fff" stroke="#000" stroke-width="0.8"/>
<path d="M88.15 262.5L89.85 264.2L88.15 265.9L86.45 264.2Z" fill="#fff" stroke="#000" stroke-width="0.8"/>
<path d="M92.3 249.5L94 251.2L92.3 252.9L90.6 251.2Z" fill="#fff" stroke="#000" stroke-width="0.8"/>
<path d="M96.45 254.8L98.15 256.5L96.45 258.2L94.75 256.5Z" fill="#fff" stroke="#000" stroke-width="0.8"/>
<path d="M100.6 255.4L102.3 257.1L100.6 258.8L98.9 257.1Z" fill="#fff" stroke="#000" stroke-width="0.8"/>
<path d="M104.75 257.6L106.45 259.3L104.75 261L103.05 259.3Z" fill="#fff" stroke="#000" stroke-width="0.8"/>
<path d="M108.9 252.4L110.6 254.1L108.9 255.8L107.2 254.1Z" fill="#fff" stroke="#000" stroke-width="0.8"/>
<path d="M113.05 253.3L114.75 255L113.05 256.7L111.35 255Z" fill="#fff" stroke="#000" stroke-width="0.8"/>
<path d="M117.2 254.1L118.9 255.8L117.2 257.5L115.5 255.8Z" fill="#fff" stroke="#000" stroke-width="0.8"/>
<path d="M121.35 255.4L123.05 257.1L121.35 258.8L119.65 257.1Z" fill="#fff" stroke="#000" stroke-width="0.8"/>
<path d="M125.5 253.2L127.2 254.9L125.5 256.6L123.8 254.9Z" fill="#fff" stroke="#000" stroke-width="0.8"/>
<path d="M129.65 257.6L131.35 259.3L129.65 261L127.95 259.3Z" fill="#fff" stroke="#000" stroke-width="0.8"/>
<path d="M133.8 262.1L135.5 263.8L133.8 265.5L132.1 263.8Z" fill="#fff" stroke="#000" stroke-width="0.8"/>
<path d="M137.95 265.8L139.65 267.5L137.95 269.2L136.25 267.5Z" fill="#fff" stroke="#000" stroke-width="0.8"/>
<path d="M142.1 261.4L143.8 263.1L142.1 264.8L140.4 263.1Z" fill="#fff" stroke="#000" stroke-width="0.8"/>
<path d="M146.25 262.4L147.95 264.1L146.25 265.8L144.55 264.1Z" fill="#fff" stroke="#000" stroke-width="0.8"/>
<path d="M150.4 266.9L152.1 268.6L150.4 270.3L148.7 268.6Z" fill="#fff" stroke="#000" stroke-width="0.8"/>
<path d="M154.55 266.9L156.25 268.6L154.55 270.3L152.85 268.6Z" fill="#fff" stroke="#000" stroke-width="0.8"/>
<path d="M158.7 272.9L160.4 274.6L158.7 276.3L157 274.6Z" fill="#fff" stroke="#000" stroke-width="0.8"/>
<path d="M162.85 269.9L164.55 271.6L162.85 273.3L161.15 271.6Z" fill="#fff" stroke="#000" stroke-width="0.8"/>
<path d="M167 272.1L168.7 273.8L167 275.5L165.3 273.8Z" fill="#fff" stroke="#000" stroke-width="0.8"/>
<path d="M171.15 275.8L172.85 277.5L171.15 279.2L169.45 277.5Z" fill="#fff" stroke="#000" stroke-width="0.8"/>
<path d="M175.3 276.6L177 278.3L175.3 280L173.6 278.3Z" fill="#fff" stroke="#000" stroke-width="0.8"/>
<path d="M179.45 278.1L181.15 279.8L179.45 281.5L177.75 279.8Z" fill="#fff" stroke="#000" stroke-width="0.8"/>
<path d="M183.6 280.3L185.3 282L183.6 283.7L181.9 282Z" fill="#fff" stroke="#000" stroke-width="0.8"/>
<path d="M187.75 282.5L189.45 284.2L187.75 285.9L186.05 284.2Z" fill="#fff" stroke="#000" stroke-width="0.8"/>
<path d="M191.9 286.3L193.6 288L191.9 289.7L190.2 288Z" fill="#fff" stroke="#000" stroke-width="0.8"/>
<path d="M196.05 287.1L197.75 288.8L196.05 290.5L194.35 288.8Z" fill="#fff" stroke="#000" stroke-width="0.8"/>
<path d="M200.2 285.2L201.9 286.9L200.2 288.6L198.5 286.9Z" fill="#fff" stroke="#000" stroke-width="0.8"/>
<path d="M204.35 289.9L206.05 291.6L204.35 293.3L202.65 291.6Z" fill="#fff" stroke="#000" stroke-width="0.8"/>
<path d="M208.5 292.1L210.2 293.8L208.5 295.5L206.8 293.8Z" fill="#fff" stroke="#000" stroke-width="0.8"/>
<path d="M212.65 293.6L214.35 295.3L212.65 297L210.95 295.3Z" fill="#fff" stroke="#000" stroke-width="0.8"/>
<path d="M216.8 294.3L218.5 296L216.8 297.7L215.1 296Z" fill="#fff" stroke="#000" stroke-width="0.8"/>
<path d="M220.95 295.1L222.65 296.8L220.95 298.5L219.25 296.8Z" fill="#fff" stroke="#000" stroke-width="0.8"/>
<path d="M225.1 295.8L226.8 297.5L225.1 299.2L223.4 297.5Z" fill="#fff" stroke="#000" stroke-width="0.8"/>
<path d="M229.25 296.6L230.95 298.3L229.25 300L227.55 298.3Z" fill="#fff" stroke="#000" stroke-width="0.8"/>
<path d="M233.4 297.3L235.1 299L233.4 300.7L231.7 299Z" fill="#fff" stroke="#000" stroke-width="0.8"/>
<path d="M237.55 298.1L239.25 299.8L237.55 301.5L235.85 299.8Z" fill="#fff" stroke="#000" stroke-width="0.8"/>
<path d="M241.7 301L243.4 302.7L241.7 304.4L240 302.7Z" fill="#fff" stroke="#000" stroke-width="0.8"/>
<polyline points="42.5,254.6 46.65,255.2 50.8,254.4 54.95,255.2 59.1,254.8 63.25,255.4 67.4,256.7 71.55,257.6 75.7,258.4 79.85,275.3 84,279.7 88.15,282.1 92.3,282.8 96.45,283 100.6,281.7 104.75,279 108.9,280.2 113.05,282.4 117.2,283.9 121.35,285.4 125.5,286.9 129.65,288.4 133.8,289.9 137.95,291.3 142.1,292.8 146.25,294.3 150.4,295.64 154.55,297.22 158.7,298.97 162.85,300.39 167,301.48 171.15,302.56 175.3,303.53 179.45,304.61 183.6,305.1 187.75,306.16 191.9,307.72 196.05,309.21 200.2,310.66 204.35,311.46 208.5,312.36 212.65,313.78 216.8,314.41 220.95,315.08 225.1,316.37 229.25,317.49 233.4,318.6 237.55,319.41 241.7,320.12" fill="none" stroke="#000" stroke-width="0.9"/>
<line x1="42.5" y1="252.3" x2="42.5" y2="256.9" stroke="#000" stroke-width="0.8"/>
<line x1="40.9" y1="252.3" x2="44.1" y2="252.3" stroke="#000" stroke-width="0.8"/>
<line x1="40.9" y1="256.9" x2="44.1" y2="256.9" stroke="#000" stroke-width="0.8"/>
<line x1="46.65" y1="252.9" x2="46.65" y2="257.5" stroke="#000" stroke-width="0.8"/>
<line x1="45.05" y1="252.9" x2="48.25" y2="252.9" stroke="#000" stroke-width="0.8"/>
<line x1="45.05" y1="257.5" x2="48.25" y2="257.5" stroke="#000" stroke-width="0.8"/>
<line x1="50.8" y1="252.1" x2="50.8" y2="256.7" stroke="#000" stroke-width="0.8"/>
<line x1="49.2" y1="252.1" x2="52.4" y2="252.1" stroke="#000" stroke-width="0.8"/>
<line x1="49.2" y1="256.7" x2="52.4" y2="256.7" stroke="#000" stroke-width="0.8"/>
<line x1="54.95" y1="252.9" x2="54.95" y2="257.5" stroke="#000" stroke-width="0.8"/>
<line x1="53.35" y1="252.9" x2="56.55" y2="252.9" stroke="#000" stroke-width="0.8"/>
<line x1="53.35" y1="257.5" x2="56.55" y2="257.5" stroke="#000" stroke-width="0.8"/>
<line x1="59.1" y1="252.5" x2="59.1" y2="257.1" stroke="#000" stroke-width="0.8"/>
<line x1="57.5" y1="252.5" x2="60.7" y2="252.5" stroke="#000" stroke-width="0.8"/>
<line x1="57.5" y1="257.1" x2="60.7" y2="257.1" stroke="#000" stroke-width="0.8"/>
<line x1="63.25" y1="253.1" x2="63.25" y2="257.7" stroke="#000" stroke-width="0.8"/>
<line x1="61.65" y1="253.1" x2="64.85" y2="253.1" stroke="#000" stroke-width="0.8"/>
<line x1="61.65" y1="257.7" x2="64.85" y2="257.7" stroke="#000" stroke-width="0.8"/>
<line x1="67.4" y1="254.4" x2="67.4" y2="259" stroke="#000" stroke-width="0.8"/>
<line x1="65.8" y1="254.4" x2="69" y2="254.4" stroke="#000" stroke-width="0.8"/>
<line x1="65.8" y1="259" x2="69" y2="259" stroke="#000" stroke-width="0.8"/>
<line x1="71.55" y1="255.3" x2="71.55" y2="259.9" stroke="#000" stroke-width="0.8"/>
<line x1="69.95" y1="255.3" x2="73.15" y2="255.3" stroke="#000" stroke-width="0.8"/>
<line x1="69.95" y1="259.9" x2="73.15" y2="259.9" stroke="#000" stroke-width="0.8"/>
<line x1="75.7" y1="256.1" x2="75.7" y2="260.7" stroke="#000" stroke-width="0.8"/>
<line x1="74.1" y1="256.1" x2="77.3" y2="256.1" stroke="#000" stroke-width="0.8"/>
<line x1="74.1" y1="260.7" x2="77.3" y2="260.7" stroke="#000" stroke-width="0.8"/>
<line x1="79.85" y1="273" x2="79.85" y2="277.6" stroke="#000" stroke-width="0.8"/>
<line x1="78.25" y1="273" x2="81.45" y2="273" stroke="#000" stroke-width="0.8"/>
<line x1="78.25" y1="277.6" x2="81.45" y2="277.6" stroke="#000" stroke-width="0.8"/>
<line x1="84" y1="277.4" x2="84" y2="282" stroke="#000" stroke-width="0.8"/>
<line x1="82.4" y1="277.4" x2="85.6" y2="277.4" stroke="#000" stroke-width="0.8"/>
<line x1="82.4" y1="282" x2="85.6" y2="282" stroke="#000" stroke-width="0.8"/>
<line x1="88.15" y1="279.8" x2="88.15" y2="284.4" stroke="#000" stroke-width="0.8"/>
<line x1="86.55" y1="279.8" x2="89.75" y2="279.8" stroke="#000" stroke-width="0.8"/>
<line x1="86.55" y1="284.4" x2="89.75" y2="284.4" stroke="#000" stroke-width="0.8"/>
<line x1="92.3" y1="280.5" x2="92.3" y2="285.1" stroke="#000" stroke-width="0.8"/>
<line x1="90.7" y1="280.5" x2="93.9" y2="280.5" stroke="#000" stroke-width="0.8"/>
<line x1="90.7" y1="285.1" x2="93.9" y2="285.1" stroke="#000" stroke-width="0.8"/>
<line x1="96.45" y1="280.7" x2="96.45" y2="285.3" stroke="#000" stroke-width="0.8"/>
<line x1="94.85" y1="280.7" x2="98.05" y2="280.7" stroke="#000" stroke-width="0.8"/>
<line x1="94.85" y1="285.3" x2="98.05" y2="285.3" stroke="#000" stroke-width="0.8"/>
<line x1="100.6" y1="279.4" x2="100.6" y2="284" stroke="#000" stroke-width="0.8"/>
<line x1="99" y1="279.4" x2="102.2" y2="279.4" stroke="#000" stroke-width="0.8"/>
<line x1="99" y1="284" x2="102.2" y2="284" stroke="#000" stroke-width="0.8"/>
<line x1="104.75" y1="276.7" x2="104.75" y2="281.3" stroke="#000" stroke-width="0.8"/>
<line x1="103.15" y1="276.7" x2="106.35" y2="276.7" stroke="#000" stroke-width="0.8"/>
<line x1="103.15" y1="281.3" x2="106.35" y2="281.3" stroke="#000" stroke-width="0.8"/>
<line x1="108.9" y1="277.9" x2="108.9" y2="282.5" stroke="#000" stroke-width="0.8"/>
<line x1="107.3" y1="277.9" x2="110.5" y2="277.9" stroke="#000" stroke-width="0.8"/>
<line x1="107.3" y1="282.5" x2="110.5" y2="282.5" stroke="#000" stroke-width="0.8"/>
<line x1="113.05" y1="280.1" x2="113.05" y2="284.7" stroke="#000" stroke-width="0.8"/>
<line x1="111.45" y1="280.1" x2="114.65" y2="280.1" stroke="#000" stroke-width="0.8"/>
<line x1="111.45" y1="284.7" x2="114.65" y2="284.7" stroke="#000" stroke-width="0.8"/>
<line x1="117.2" y1="281.6" x2="117.2" y2="286.2" stroke="#000" stroke-width="0.8"/>
<line x1="115.6" y1="281.6" x2="118.8" y2="281.6" stroke="#000" stroke-width="0.8"/>
<line x1="115.6" y1="286.2" x2="118.8" y2="286.2" stroke="#000" stroke-width="0.8"/>
<line x1="121.35" y1="283.1" x2="121.35" y2="287.7" stroke="#000" stroke-width="0.8"/>
<line x1="119.75" y1="283.1" x2="122.95" y2="283.1" stroke="#000" stroke-width="0.8"/>
<line x1="119.75" y1="287.7" x2="122.95" y2="287.7" stroke="#000" stroke-width="0.8"/>
<line x1="125.5" y1="284.6" x2="125.5" y2="289.2" stroke="#000" stroke-width="0.8"/>
<line x1="123.9" y1="284.6" x2="127.1" y2="284.6" stroke="#000" stroke-width="0.8"/>
<line x1="123.9" y1="289.2" x2="127.1" y2="289.2" stroke="#000" stroke-width="0.8"/>
<line x1="129.65" y1="286.1" x2="129.65" y2="290.7" stroke="#000" stroke-width="0.8"/>
<line x1="128.05" y1="286.1" x2="131.25" y2="286.1" stroke="#000" stroke-width="0.8"/>
<line x1="128.05" y1="290.7" x2="131.25" y2="290.7" stroke="#000" stroke-width="0.8"/>
<line x1="133.8" y1="287.6" x2="133.8" y2="292.2" stroke="#000" stroke-width="0.8"/>
<line x1="132.2" y1="287.6" x2="135.4" y2="287.6" stroke="#000" stroke-width="0.8"/>
<line x1="132.2" y1="292.2" x2="135.4" y2="292.2" stroke="#000" stroke-width="0.8"/>
<line x1="137.95" y1="289" x2="137.95" y2="293.6" stroke="#000" stroke-width="0.8"/>
<line x1="136.35" y1="289" x2="139.55" y2="289" stroke="#000" stroke-width="0.8"/>
<line x1="136.35" y1="293.6" x2="139.55" y2="293.6" stroke="#000" stroke-width="0.8"/>
<line x1="142.1" y1="290.5" x2="142.1" y2="295.1" stroke="#000" stroke-width="0.8"/>
<line x1="140.5" y1="290.5" x2="143.7" y2="290.5" stroke="#000" stroke-width="0.8"/>
<line x1="140.5" y1="295.1" x2="143.7" y2="295.1" stroke="#000" stroke-width="0.8"/>
<line x1="146.25" y1="292" x2="146.25" y2="296.6" stroke="#000" stroke-width="0.8"/>
<line x1="144.65" y1="292" x2="147.85" y2="292" stroke="#000" stroke-width="0.8"/>
<line x1="144.65" y1="296.6" x2="147.85" y2="296.6" stroke="#000" stroke-width="0.8"/>
<line x1="150.4" y1="293.34" x2="150.4" y2="297.94" stroke="#000" stroke-width="0.8"/>
<line x1="148.8" y1="293.34" x2="152" y2="293.34" stroke="#000" stroke-width="0.8"/>
<line x1="148.8" y1="297.94" x2="152" y2="297.94" stroke="#000" stroke-width="0.8"/>
<line x1="154.55" y1="294.92" x2="154.55" y2="299.52" stroke="#000" stroke-width="0.8"/>
<line x1="152.95" y1="294.92" x2="156.15" y2="294.92" stroke="#000" stroke-width="0.8"/>
<line x1="152.95" y1="299.52" x2="156.15" y2="299.52" stroke="#000" stroke-width="0.8"/>
<line x1="158.7" y1="296.67" x2="158.7" y2="301.27" stroke="#000" stroke-width="0.8"/>
<line x1="157.1" y1="296.67" x2="160.3" y2="296.67" stroke="#000" stroke-width="0.8"/>
<line x1="157.1" y1="301.27" x2="160.3" y2="301.27" stroke="#000" stroke-width="0.8"/>
<line x1="162.85" y1="298.09" x2="162.85" y2="302.69" stroke="#000" stroke-width="0.8"/>
<line x1="161.25" y1="298.09" x2="164.45" y2="298.09" stroke="#000" stroke-width="0.8"/>
<line x1="161.25" y1="302.69" x2="164.45" y2="302.69" stroke="#000" stroke-width="0.8"/>
<line x1="167" y1="299.18" x2="167" y2="303.78" stroke="#000" stroke-width="0.8"/>
<line x1="165.4" y1="299.18" x2="168.6" y2="299.18" stroke="#000" stroke-width="0.8"/>
<line x1="165.4" y1="303.78" x2="168.6" y2="303.78" stroke="#000" stroke-width="0.8"/>
<line x1="171.15" y1="300.26" x2="171.15" y2="304.86" stroke="#000" stroke-width="0.8"/>
<line x1="169.55" y1="300.26" x2="172.75" y2="300.26" stroke="#000" stroke-width="0.8"/>
<line x1="169.55" y1="304.86" x2="172.75" y2="304.86" stroke="#000" stroke-width="0.8"/>
<line x1="175.3" y1="301.23" x2="175.3" y2="305.83" stroke="#000" stroke-width="0.8"/>
<line x1="173.7" y1="301.23" x2="176.9" y2="301.23" stroke="#000" stroke-width="0.8"/>
<line x1="173.7" y1="305.83" x2="176.9" y2="305.83" stroke="#000" stroke-width="0.8"/>
<line x1="179.45" y1="302.31" x2="179.45" y2="306.91" stroke="#000" stroke-width="0.8"/>
<line x1="177.85" y1="302.31" x2="181.05" y2="302.31" stroke="#000" stroke-width="0.8"/>
<line x1="177.85" y1="306.91" x2="181.05" y2="306.91" stroke="#000" stroke-width="0.8"/>
<line x1="183.6" y1="302.8" x2="183.6" y2="307.4" stroke="#000" stroke-width="0.8"/>
<line x1="182" y1="302.8" x2="185.2" y2="302.8" stroke="#000" stroke-width="0.8"/>
<line x1="182" y1="307.4" x2="185.2" y2="307.4" stroke="#000" stroke-width="0.8"/>
<line x1="187.75" y1="303.86" x2="187.75" y2="308.46" stroke="#000" stroke-width="0.8"/>
<line x1="186.15" y1="303.86" x2="189.35" y2="303.86" stroke="#000" stroke-width="0.8"/>
<line x1="186.15" y1="308.46" x2="189.35" y2="308.46" stroke="#000" stroke-width="0.8"/>
<line x1="191.9" y1="305.42" x2="191.9" y2="310.02" stroke="#000" stroke-width="0.8"/>
<line x1="190.3" y1="305.42" x2="193.5" y2="305.42" stroke="#000" stroke-width="0.8"/>
<line x1="190.3" y1="310.02" x2="193.5" y2="310.02" stroke="#000" stroke-width="0.8"/>
<line x1="196.05" y1="306.91" x2="196.05" y2="311.51" stroke="#000" stroke-width="0.8"/>
<line x1="194.45" y1="306.91" x2="197.65" y2="306.91" stroke="#000" stroke-width="0.8"/>
<line x1="194.45" y1="311.51" x2="197.65" y2="311.51" stroke="#000" stroke-width="0.8"/>
<line x1="200.2" y1="308.36" x2="200.2" y2="312.96" stroke="#000" stroke-width="0.8"/>
<line x1="198.6" y1="308.36" x2="201.8" y2="308.36" stroke="#000" stroke-width="0.8"/>
<line x1="198.6" y1="312.96" x2="201.8" y2="312.96" stroke="#000" stroke-width="0.8"/>
<line x1="204.35" y1="309.16" x2="204.35" y2="313.76" stroke="#000" stroke-width="0.8"/>
<line x1="202.75" y1="309.16" x2="205.95" y2="309.16" stroke="#000" stroke-width="0.8"/>
<line x1="202.75" y1="313.76" x2="205.95" y2="313.76" stroke="#000" stroke-width="0.8"/>
<line x1="208.5" y1="310.06" x2="208.5" y2="314.66" stroke="#000" stroke-width="0.8"/>
<line x1="206.9" y1="310.06" x2="210.1" y2="310.06" stroke="#000" stroke-width="0.8"/>
<line x1="206.9" y1="314.66" x2="210.1" y2="314.66" stroke="#000" stroke-width="0.8"/>
<line x1="212.65" y1="311.48" x2="212.65" y2="316.08" stroke="#000" stroke-width="0.8"/>
<line x1="211.05" y1="311.48" x2="214.25" y2="311.48" stroke="#000" stroke-width="0.8"/>
<line x1="211.05" y1="316.08" x2="214.25" y2="316.08" stroke="#000" stroke-width="0.8"/>
<line x1="216.8" y1="312.11" x2="216.8" y2="316.71" stroke="#000" stroke-width="0.8"/>
<line x1="215.2" y1="312.11" x2="218.4" y2="312.11" stroke="#000" stroke-width="0.8"/>
<line x1="215.2" y1="316.71" x2="218.4" y2="316.71" stroke="#000" stroke-width="0.8"/>
<line x1="220.95" y1="312.78" x2="220.95" y2="317.38" stroke="#000" stroke-width="0.8"/>
<line x1="219.35" y1="312.78" x2="222.55" y2="312.78" stroke="#000" stroke-width="0.8"/>
<line x1="219.35" y1="317.38" x2="222.55" y2="317.38" stroke="#000" stroke-width="0.8"/>
<line x1="225.1" y1="314.07" x2="225.1" y2="318.67" stroke="#000" stroke-width="0.8"/>
<line x1="223.5" y1="314.07" x2="226.7" y2="314.07" stroke="#000" stroke-width="0.8"/>
<line x1="223.5" y1="318.67" x2="226.7" y2="318.67" stroke="#000" stroke-width="0.8"/>
<line x1="229.25" y1="315.19" x2="229.25" y2="319.79" stroke="#000" stroke-width="0.8"/>
<line x1="227.65" y1="315.19" x2="230.85" y2="315.19" stroke="#000" stroke-width="0.8"/>
<line x1="227.65" y1="319.79" x2="230.85" y2="319.79" stroke="#000" stroke-width="0.8"/>
<line x1="233.4" y1="316.3" x2="233.4" y2="320.9" stroke="#000" stroke-width="0.8"/>
<line x1="231.8" y1="316.3" x2="235" y2="316.3" stroke="#000" stroke-width="0.8"/>
<line x1="231.8" y1="320.9" x2="235" y2="320.9" stroke="#000" stroke-width="0.8"/>
<line x1="237.55" y1="317.11" x2="237.55" y2="321.71" stroke="#000" stroke-width="0.8"/>
<line x1="235.95" y1="317.11" x2="239.15" y2="317.11" stroke="#000" stroke-width="0.8"/>
<line x1="235.95" y1="321.71" x2="239.15" y2="321.71" stroke="#000" stroke-width="0.8"/>
<line x1="241.7" y1="317.82" x2="241.7" y2="322.42" stroke="#000" stroke-width="0.8"/>
<line x1="240.1" y1="317.82" x2="243.3" y2="317.82" stroke="#000" stroke-width="0.8"/>
<line x1="240.1" y1="322.42" x2="243.3" y2="322.42" stroke="#000" stroke-width="0.8"/>
<rect x="40.95" y="253.05" width="3.1" height="3.1" fill="#000"/>
<rect x="45.1" y="253.65" width="3.1" height="3.1" fill="#000"/>
<rect x="49.25" y="252.85" width="3.1" height="3.1" fill="#000"/>
<rect x="53.4" y="253.65" width="3.1" height="3.1" fill="#000"/>
<rect x="57.55" y="253.25" width="3.1" height="3.1" fill="#000"/>
<rect x="61.7" y="253.85" width="3.1" height="3.1" fill="#000"/>
<rect x="65.85" y="255.15" width="3.1" height="3.1" fill="#000"/>
<rect x="70" y="256.05" width="3.1" height="3.1" fill="#000"/>
<rect x="74.15" y="256.85" width="3.1" height="3.1" fill="#000"/>
<rect x="78.3" y="273.75" width="3.1" height="3.1" fill="#000"/>
<rect x="82.45" y="278.15" width="3.1" height="3.1" fill="#000"/>
<rect x="86.6" y="280.55" width="3.1" height="3.1" fill="#000"/>
<rect x="90.75" y="281.25" width="3.1" height="3.1" fill="#000"/>
<rect x="94.9" y="281.45" width="3.1" height="3.1" fill="#000"/>
<rect x="99.05" y="280.15" width="3.1" height="3.1" fill="#000"/>
<rect x="103.2" y="277.45" width="3.1" height="3.1" fill="#000"/>
<rect x="107.35" y="278.65" width="3.1" height="3.1" fill="#000"/>
<rect x="111.5" y="280.85" width="3.1" height="3.1" fill="#000"/>
<rect x="115.65" y="282.35" width="3.1" height="3.1" fill="#000"/>
<rect x="119.8" y="283.85" width="3.1" height="3.1" fill="#000"/>
<rect x="123.95" y="285.35" width="3.1" height="3.1" fill="#000"/>
<rect x="128.1" y="286.85" width="3.1" height="3.1" fill="#000"/>
<rect x="132.25" y="288.35" width="3.1" height="3.1" fill="#000"/>
<rect x="136.4" y="289.75" width="3.1" height="3.1" fill="#000"/>
<rect x="140.55" y="291.25" width="3.1" height="3.1" fill="#000"/>
<rect x="144.7" y="292.75" width="3.1" height="3.1" fill="#000"/>
<rect x="148.85" y="294.09" width="3.1" height="3.1" fill="#000"/>
<rect x="153" y="295.67" width="3.1" height="3.1" fill="#000"/>
<rect x="157.15" y="297.42" width="3.1" height="3.1" fill="#000"/>
<rect x="161.3" y="298.84" width="3.1" height="3.1" fill="#000"/>
<rect x="165.45" y="299.93" width="3.1" height="3.1" fill="#000"/>
<rect x="169.6" y="301.01" width="3.1" height="3.1" fill="#000"/>
<rect x="173.75" y="301.98" width="3.1" height="3.1" fill="#000"/>
<rect x="177.9" y="303.06" width="3.1" height="3.1" fill="#000"/>
<rect x="182.05" y="303.55" width="3.1" height="3.1" fill="#000"/>
<rect x="186.2" y="304.61" width="3.1" height="3.1" fill="#000"/>
<rect x="190.35" y="306.17" width="3.1" height="3.1" fill="#000"/>
<rect x="194.5" y="307.66" width="3.1" height="3.1" fill="#000"/>
<rect x="198.65" y="309.11" width="3.1" height="3.1" fill="#000"/>
<rect x="202.8" y="309.91" width="3.1" height="3.1" fill="#000"/>
<rect x="206.95" y="310.81" width="3.1" height="3.1" fill="#000"/>
<rect x="211.1" y="312.23" width="3.1" height="3.1" fill="#000"/>
<rect x="215.25" y="312.86" width="3.1" height="3.1" fill="#000"/>
<rect x="219.4" y="313.53" width="3.1" height="3.1" fill="#000"/>
<rect x="223.55" y="314.82" width="3.1" height="3.1" fill="#000"/>
<rect x="227.7" y="315.94" width="3.1" height="3.1" fill="#000"/>
<rect x="231.85" y="317.05" width="3.1" height="3.1" fill="#000"/>
<rect x="236" y="317.86" width="3.1" height="3.1" fill="#000"/>
<rect x="240.15" y="318.57" width="3.1" height="3.1" fill="#000"/>
<path d="M59.5 336.9L61.4 338.8L59.5 340.7L57.6 338.8Z" fill="#fff" stroke="#000" stroke-width="0.95"/>
<text x="65.3" y="341.8" font-size="8.5" font-weight="bold" text-anchor="start">Ctrl</text>
<rect x="58.45" y="349.25" width="2.9" height="2.9" fill="#000"/>
<text x="65.3" y="353.4" font-size="8.5" font-weight="bold" text-anchor="start">a-PDI</text>
<text x="271.4" y="214.4" font-size="19" font-weight="bold" text-anchor="start">D</text>
<line x1="314.8" y1="224.8" x2="314.8" y2="362.5" stroke="#000" stroke-width="1.2"/>
<line x1="312.4" y1="361.8" x2="314.8" y2="361.8" stroke="#000" stroke-width="0.9"/>
<text x="303.7" y="364.9" font-size="8.6" font-weight="bold" text-anchor="end">0</text>
<line x1="312.4" y1="327.9" x2="314.8" y2="327.9" stroke="#000" stroke-width="0.9"/>
<text x="303.7" y="331" font-size="8.6" font-weight="bold" text-anchor="end">25</text>
<line x1="312.4" y1="294" x2="314.8" y2="294" stroke="#000" stroke-width="0.9"/>
<text x="303.7" y="297.1" font-size="8.6" font-weight="bold" text-anchor="end">50</text>
<line x1="312.4" y1="260.1" x2="314.8" y2="260.1" stroke="#000" stroke-width="0.9"/>
<text x="303.7" y="263.2" font-size="8.6" font-weight="bold" text-anchor="end">75</text>
<line x1="312.4" y1="226.2" x2="314.8" y2="226.2" stroke="#000" stroke-width="0.9"/>
<text x="303.7" y="229.3" font-size="8.6" font-weight="bold" text-anchor="end">&#x2007;00</text>
<path d="M292.84 229.3 L291.72 229.3 L291.72 225 Q291.08 225.43 290.39 225.6 L290.39 224.57 Q291.08 224.31 291.59 223.8 Q291.94 223.45 292.02 223.14 L292.84 223.14Z" fill="#000" stroke="#000" stroke-width="0.28"/>
<line x1="322.4" y1="369.6" x2="518" y2="369.6" stroke="#000" stroke-width="1.32"/>
<line x1="371" y1="369.6" x2="371" y2="371.8" stroke="#000" stroke-width="0.9"/>
<line x1="469.5" y1="369.6" x2="469.5" y2="371.8" stroke="#000" stroke-width="0.9"/>
<text x="368.9" y="384.6" font-size="9.3" font-weight="bold" text-anchor="middle">Ctrl</text>
<text x="470.7" y="384.6" font-size="9.4" font-weight="bold" text-anchor="middle">a-PDI</text>
<text x="281.3" y="291.15" font-size="9.16" font-weight="bold" text-anchor="middle" transform="rotate(-90 281.3 291.15)">PS flop (%)</text>
<polyline points="370.4,230.8 370.4,228.5 469.8,228.5 469.8,230.8" fill="none" stroke="#000" stroke-width="1"/>
<text x="402.2" y="224.7" font-size="8.4" font-weight="bold"><tspan font-style="italic">P</tspan><tspan font-weight="normal" font-size="8.2"> &lt; .000&#x2007;</tspan></text>
<path d="M436.31 224.7 L435.57 224.7 L435.57 220.11 Q434.91 220.6 434.01 221.01 L434.01 220.31 Q434.91 219.94 435.49 219.37 Q435.81 219.04 435.86 218.83 L436.31 218.83Z" fill="#000" stroke="#000" stroke-width="0.28"/>
<circle cx="371.1" cy="258.9" r="1.2" fill="#fff" stroke="#000" stroke-width="0.95"/>
<circle cx="370.9" cy="274" r="1.2" fill="#fff" stroke="#000" stroke-width="0.95"/>
<circle cx="368.5" cy="280.4" r="1.2" fill="#fff" stroke="#000" stroke-width="0.95"/>
<circle cx="373.5" cy="278.7" r="1.2" fill="#fff" stroke="#000" stroke-width="0.95"/>
<circle cx="366.3" cy="287" r="1.2" fill="#fff" stroke="#000" stroke-width="0.95"/>
<circle cx="370.9" cy="287.6" r="1.2" fill="#fff" stroke="#000" stroke-width="0.95"/>
<circle cx="375.8" cy="286.7" r="1.2" fill="#fff" stroke="#000" stroke-width="0.95"/>
<circle cx="359.3" cy="291.4" r="1.2" fill="#fff" stroke="#000" stroke-width="0.95"/>
<circle cx="363.6" cy="291.9" r="1.2" fill="#fff" stroke="#000" stroke-width="0.95"/>
<circle cx="368.5" cy="293.6" r="1.2" fill="#fff" stroke="#000" stroke-width="0.95"/>
<circle cx="373.5" cy="293.1" r="1.2" fill="#fff" stroke="#000" stroke-width="0.95"/>
<circle cx="378" cy="291" r="1.2" fill="#fff" stroke="#000" stroke-width="0.95"/>
<circle cx="382.7" cy="289.8" r="1.2" fill="#fff" stroke="#000" stroke-width="0.95"/>
<circle cx="354.4" cy="296.6" r="1.2" fill="#fff" stroke="#000" stroke-width="0.95"/>
<circle cx="359.3" cy="297.5" r="1.2" fill="#fff" stroke="#000" stroke-width="0.95"/>
<circle cx="363.6" cy="298.3" r="1.2" fill="#fff" stroke="#000" stroke-width="0.95"/>
<circle cx="368.5" cy="299.7" r="1.2" fill="#fff" stroke="#000" stroke-width="0.95"/>
<circle cx="373.5" cy="299.7" r="1.2" fill="#fff" stroke="#000" stroke-width="0.95"/>
<circle cx="378" cy="298.9" r="1.2" fill="#fff" stroke="#000" stroke-width="0.95"/>
<circle cx="382.7" cy="298" r="1.2" fill="#fff" stroke="#000" stroke-width="0.95"/>
<circle cx="387.1" cy="297.1" r="1.2" fill="#fff" stroke="#000" stroke-width="0.95"/>
<circle cx="356.7" cy="300.6" r="1.2" fill="#fff" stroke="#000" stroke-width="0.95"/>
<circle cx="361.4" cy="301.5" r="1.2" fill="#fff" stroke="#000" stroke-width="0.95"/>
<circle cx="366.3" cy="303.2" r="1.2" fill="#fff" stroke="#000" stroke-width="0.95"/>
<circle cx="370.9" cy="304.6" r="1.2" fill="#fff" stroke="#000" stroke-width="0.95"/>
<circle cx="375.8" cy="303.2" r="1.2" fill="#fff" stroke="#000" stroke-width="0.95"/>
<circle cx="380.5" cy="302" r="1.2" fill="#fff" stroke="#000" stroke-width="0.95"/>
<circle cx="385.3" cy="301.1" r="1.2" fill="#fff" stroke="#000" stroke-width="0.95"/>
<circle cx="368.5" cy="309.3" r="1.2" fill="#fff" stroke="#000" stroke-width="0.95"/>
<circle cx="373.5" cy="310.5" r="1.2" fill="#fff" stroke="#000" stroke-width="0.95"/>
<circle cx="359.3" cy="313.6" r="1.2" fill="#fff" stroke="#000" stroke-width="0.95"/>
<circle cx="363.6" cy="314.1" r="1.2" fill="#fff" stroke="#000" stroke-width="0.95"/>
<circle cx="373.5" cy="313.6" r="1.2" fill="#fff" stroke="#000" stroke-width="0.95"/>
<circle cx="378" cy="313.6" r="1.2" fill="#fff" stroke="#000" stroke-width="0.95"/>
<circle cx="382.7" cy="313.6" r="1.2" fill="#fff" stroke="#000" stroke-width="0.95"/>
<circle cx="363.6" cy="317.3" r="1.2" fill="#fff" stroke="#000" stroke-width="0.95"/>
<circle cx="368.5" cy="316.8" r="1.2" fill="#fff" stroke="#000" stroke-width="0.95"/>
<circle cx="378" cy="318" r="1.2" fill="#fff" stroke="#000" stroke-width="0.95"/>
<circle cx="368.6" cy="321" r="1.2" fill="#fff" stroke="#000" stroke-width="0.95"/>
<circle cx="373.2" cy="322.2" r="1.2" fill="#fff" stroke="#000" stroke-width="0.95"/>
<circle cx="363.9" cy="324.4" r="1.2" fill="#fff" stroke="#000" stroke-width="0.95"/>
<circle cx="377.9" cy="323.4" r="1.2" fill="#fff" stroke="#000" stroke-width="0.95"/>
<circle cx="368.6" cy="327" r="1.2" fill="#fff" stroke="#000" stroke-width="0.95"/>
<circle cx="373.2" cy="326" r="1.2" fill="#fff" stroke="#000" stroke-width="0.95"/>
<circle cx="359.2" cy="335.2" r="1.2" fill="#fff" stroke="#000" stroke-width="0.95"/>
<circle cx="382.6" cy="334.5" r="1.2" fill="#fff" stroke="#000" stroke-width="0.95"/>
<circle cx="366" cy="333" r="1.2" fill="#fff" stroke="#000" stroke-width="0.95"/>
<circle cx="371" cy="333.5" r="1.2" fill="#fff" stroke="#000" stroke-width="0.95"/>
<circle cx="359.2" cy="340.7" r="1.2" fill="#fff" stroke="#000" stroke-width="0.95"/>
<circle cx="363.9" cy="338.8" r="1.2" fill="#fff" stroke="#000" stroke-width="0.95"/>
<circle cx="368.6" cy="339.2" r="1.2" fill="#fff" stroke="#000" stroke-width="0.95"/>
<circle cx="373.2" cy="339.2" r="1.2" fill="#fff" stroke="#000" stroke-width="0.95"/>
<circle cx="377.9" cy="337.4" r="1.2" fill="#fff" stroke="#000" stroke-width="0.95"/>
<circle cx="382.6" cy="340.7" r="1.2" fill="#fff" stroke="#000" stroke-width="0.95"/>
<circle cx="363.9" cy="343.1" r="1.2" fill="#fff" stroke="#000" stroke-width="0.95"/>
<circle cx="368.6" cy="343.9" r="1.2" fill="#fff" stroke="#000" stroke-width="0.95"/>
<circle cx="373.2" cy="344.6" r="1.2" fill="#fff" stroke="#000" stroke-width="0.95"/>
<circle cx="377.9" cy="343.1" r="1.2" fill="#fff" stroke="#000" stroke-width="0.95"/>
<circle cx="363.9" cy="346.2" r="1.2" fill="#fff" stroke="#000" stroke-width="0.95"/>
<circle cx="373.2" cy="347.5" r="1.2" fill="#fff" stroke="#000" stroke-width="0.95"/>
<circle cx="377.9" cy="346.2" r="1.2" fill="#fff" stroke="#000" stroke-width="0.95"/>
<circle cx="359.2" cy="349.9" r="1.2" fill="#fff" stroke="#000" stroke-width="0.95"/>
<circle cx="363.9" cy="351.1" r="1.2" fill="#fff" stroke="#000" stroke-width="0.95"/>
<circle cx="368.6" cy="349.6" r="1.2" fill="#fff" stroke="#000" stroke-width="0.95"/>
<circle cx="368.6" cy="352.8" r="1.2" fill="#fff" stroke="#000" stroke-width="0.95"/>
<circle cx="373.2" cy="354.7" r="1.2" fill="#fff" stroke="#000" stroke-width="0.95"/>
<circle cx="377.9" cy="352.8" r="1.2" fill="#fff" stroke="#000" stroke-width="0.95"/>
<circle cx="382.6" cy="351.1" r="1.2" fill="#fff" stroke="#000" stroke-width="0.95"/>
<circle cx="365.3" cy="358.3" r="1.2" fill="#fff" stroke="#000" stroke-width="0.95"/>
<circle cx="376.8" cy="358.3" r="1.2" fill="#fff" stroke="#000" stroke-width="0.95"/>
<circle cx="370.5" cy="359.5" r="1.2" fill="#fff" stroke="#000" stroke-width="0.95"/>
<circle cx="340.7" cy="362" r="1.05" fill="#fff" stroke="#000" stroke-width="0.75"/>
<circle cx="342.88" cy="362" r="1.05" fill="#fff" stroke="#000" stroke-width="0.75"/>
<circle cx="345.06" cy="362" r="1.05" fill="#fff" stroke="#000" stroke-width="0.75"/>
<circle cx="347.25" cy="362" r="1.05" fill="#fff" stroke="#000" stroke-width="0.75"/>
<circle cx="349.43" cy="362" r="1.05" fill="#fff" stroke="#000" stroke-width="0.75"/>
<circle cx="351.61" cy="362" r="1.05" fill="#fff" stroke="#000" stroke-width="0.75"/>
<circle cx="353.79" cy="362" r="1.05" fill="#fff" stroke="#000" stroke-width="0.75"/>
<circle cx="355.98" cy="362" r="1.05" fill="#fff" stroke="#000" stroke-width="0.75"/>
<circle cx="358.16" cy="362" r="1.05" fill="#fff" stroke="#000" stroke-width="0.75"/>
<circle cx="360.34" cy="362" r="1.05" fill="#fff" stroke="#000" stroke-width="0.75"/>
<circle cx="362.52" cy="362" r="1.05" fill="#fff" stroke="#000" stroke-width="0.75"/>
<circle cx="364.7" cy="362" r="1.05" fill="#fff" stroke="#000" stroke-width="0.75"/>
<circle cx="366.89" cy="362" r="1.05" fill="#fff" stroke="#000" stroke-width="0.75"/>
<circle cx="369.07" cy="362" r="1.05" fill="#fff" stroke="#000" stroke-width="0.75"/>
<circle cx="371.25" cy="362" r="1.05" fill="#fff" stroke="#000" stroke-width="0.75"/>
<circle cx="373.43" cy="362" r="1.05" fill="#fff" stroke="#000" stroke-width="0.75"/>
<circle cx="375.61" cy="362" r="1.05" fill="#fff" stroke="#000" stroke-width="0.75"/>
<circle cx="377.8" cy="362" r="1.05" fill="#fff" stroke="#000" stroke-width="0.75"/>
<circle cx="379.98" cy="362" r="1.05" fill="#fff" stroke="#000" stroke-width="0.75"/>
<circle cx="382.16" cy="362" r="1.05" fill="#fff" stroke="#000" stroke-width="0.75"/>
<circle cx="384.34" cy="362" r="1.05" fill="#fff" stroke="#000" stroke-width="0.75"/>
<circle cx="386.52" cy="362" r="1.05" fill="#fff" stroke="#000" stroke-width="0.75"/>
<circle cx="388.71" cy="362" r="1.05" fill="#fff" stroke="#000" stroke-width="0.75"/>
<circle cx="390.89" cy="362" r="1.05" fill="#fff" stroke="#000" stroke-width="0.75"/>
<circle cx="393.07" cy="362" r="1.05" fill="#fff" stroke="#000" stroke-width="0.75"/>
<circle cx="395.25" cy="362" r="1.05" fill="#fff" stroke="#000" stroke-width="0.75"/>
<circle cx="397.44" cy="362" r="1.05" fill="#fff" stroke="#000" stroke-width="0.75"/>
<circle cx="399.62" cy="362" r="1.05" fill="#fff" stroke="#000" stroke-width="0.75"/>
<circle cx="401.8" cy="362" r="1.05" fill="#fff" stroke="#000" stroke-width="0.75"/>
<rect x="468.15" y="248.05" width="2.9" height="2.9" fill="#000"/>
<rect x="465.55" y="265.95" width="2.9" height="2.9" fill="#000"/>
<rect x="458.45" y="270.65" width="2.9" height="2.9" fill="#000"/>
<rect x="463.25" y="271.85" width="2.9" height="2.9" fill="#000"/>
<rect x="470.25" y="270.15" width="2.9" height="2.9" fill="#000"/>
<rect x="477.15" y="271.85" width="2.9" height="2.9" fill="#000"/>
<rect x="468.15" y="275.05" width="2.9" height="2.9" fill="#000"/>
<rect x="472.85" y="274.15" width="2.9" height="2.9" fill="#000"/>
<rect x="458.45" y="278.15" width="2.9" height="2.9" fill="#000"/>
<rect x="463.25" y="280.25" width="2.9" height="2.9" fill="#000"/>
<rect x="468.15" y="280.55" width="2.9" height="2.9" fill="#000"/>
<rect x="472.85" y="279.35" width="2.9" height="2.9" fill="#000"/>
<rect x="477.55" y="277.05" width="2.9" height="2.9" fill="#000"/>
<rect x="458.45" y="283.35" width="2.9" height="2.9" fill="#000"/>
<rect x="463.25" y="284.55" width="2.9" height="2.9" fill="#000"/>
<rect x="468.15" y="285.45" width="2.9" height="2.9" fill="#000"/>
<rect x="472.85" y="284.55" width="2.9" height="2.9" fill="#000"/>
<rect x="477.55" y="283.65" width="2.9" height="2.9" fill="#000"/>
<rect x="455.95" y="286.85" width="2.9" height="2.9" fill="#000"/>
<rect x="460.65" y="289.75" width="2.9" height="2.9" fill="#000"/>
<rect x="465.55" y="290.65" width="2.9" height="2.9" fill="#000"/>
<rect x="470.25" y="291.55" width="2.9" height="2.9" fill="#000"/>
<rect x="475.05" y="290.65" width="2.9" height="2.9" fill="#000"/>
<rect x="479.75" y="288.85" width="2.9" height="2.9" fill="#000"/>
<rect x="444.55" y="293.75" width="2.9" height="2.9" fill="#000"/>
<rect x="449.35" y="294.95" width="2.9" height="2.9" fill="#000"/>
<rect x="453.75" y="295.85" width="2.9" height="2.9" fill="#000"/>
<rect x="458.45" y="296.75" width="2.9" height="2.9" fill="#000"/>
<rect x="463.25" y="297.25" width="2.9" height="2.9" fill="#000"/>
<rect x="468.15" y="297.55" width="2.9" height="2.9" fill="#000"/>
<rect x="472.85" y="297.25" width="2.9" height="2.9" fill="#000"/>
<rect x="477.55" y="296.75" width="2.9" height="2.9" fill="#000"/>
<rect x="482.35" y="295.85" width="2.9" height="2.9" fill="#000"/>
<rect x="486.75" y="294.95" width="2.9" height="2.9" fill="#000"/>
<rect x="491.05" y="294.15" width="2.9" height="2.9" fill="#000"/>
<rect x="451.15" y="300.45" width="2.9" height="2.9" fill="#000"/>
<rect x="456.35" y="301.35" width="2.9" height="2.9" fill="#000"/>
<rect x="460.65" y="302.25" width="2.9" height="2.9" fill="#000"/>
<rect x="465.55" y="303.05" width="2.9" height="2.9" fill="#000"/>
<rect x="470.25" y="302.25" width="2.9" height="2.9" fill="#000"/>
<rect x="475.05" y="302.55" width="2.9" height="2.9" fill="#000"/>
<rect x="479.75" y="301.35" width="2.9" height="2.9" fill="#000"/>
<rect x="484.15" y="300.45" width="2.9" height="2.9" fill="#000"/>
<rect x="449.35" y="306.15" width="2.9" height="2.9" fill="#000"/>
<rect x="453.85" y="306.45" width="2.9" height="2.9" fill="#000"/>
<rect x="458.35" y="306.65" width="2.9" height="2.9" fill="#000"/>
<rect x="462.85" y="306.65" width="2.9" height="2.9" fill="#000"/>
<rect x="473.25" y="306.65" width="2.9" height="2.9" fill="#000"/>
<rect x="477.75" y="306.45" width="2.9" height="2.9" fill="#000"/>
<rect x="482.25" y="306.15" width="2.9" height="2.9" fill="#000"/>
<rect x="451.15" y="314.35" width="2.9" height="2.9" fill="#000"/>
<rect x="456.35" y="315.75" width="2.9" height="2.9" fill="#000"/>
<rect x="460.65" y="316.15" width="2.9" height="2.9" fill="#000"/>
<rect x="465.55" y="315.25" width="2.9" height="2.9" fill="#000"/>
<rect x="470.25" y="316.95" width="2.9" height="2.9" fill="#000"/>
<rect x="475.05" y="316.15" width="2.9" height="2.9" fill="#000"/>
<rect x="479.75" y="314.75" width="2.9" height="2.9" fill="#000"/>
<rect x="484.15" y="314.05" width="2.9" height="2.9" fill="#000"/>
<rect x="449.35" y="319.25" width="2.9" height="2.9" fill="#000"/>
<rect x="454.55" y="320.45" width="2.9" height="2.9" fill="#000"/>
<rect x="458.95" y="322.15" width="2.9" height="2.9" fill="#000"/>
<rect x="463.25" y="322.75" width="2.9" height="2.9" fill="#000"/>
<rect x="468.15" y="323.45" width="2.9" height="2.9" fill="#000"/>
<rect x="472.85" y="322.15" width="2.9" height="2.9" fill="#000"/>
<rect x="477.55" y="320.95" width="2.9" height="2.9" fill="#000"/>
<rect x="482.05" y="319.25" width="2.9" height="2.9" fill="#000"/>
<rect x="486.75" y="318.75" width="2.9" height="2.9" fill="#000"/>
<rect x="458.95" y="325.35" width="2.9" height="2.9" fill="#000"/>
<rect x="477.15" y="325.65" width="2.9" height="2.9" fill="#000"/>
<rect x="463.25" y="328.25" width="2.9" height="2.9" fill="#000"/>
<rect x="468.15" y="329.65" width="2.9" height="2.9" fill="#000"/>
<rect x="472.85" y="329.15" width="2.9" height="2.9" fill="#000"/>
<rect x="463.25" y="336.05" width="2.9" height="2.9" fill="#000"/>
<rect x="472.85" y="335.55" width="2.9" height="2.9" fill="#000"/>
<rect x="463.25" y="339.55" width="2.9" height="2.9" fill="#000"/>
<rect x="468.15" y="339.05" width="2.9" height="2.9" fill="#000"/>
<rect x="468.15" y="343.85" width="2.9" height="2.9" fill="#000"/>
<rect x="472.85" y="344.25" width="2.9" height="2.9" fill="#000"/>
<rect x="455.95" y="345.65" width="2.9" height="2.9" fill="#000"/>
<rect x="460.65" y="348.75" width="2.9" height="2.9" fill="#000"/>
<rect x="465.55" y="349.45" width="2.9" height="2.9" fill="#000"/>
<rect x="470.25" y="350.45" width="2.9" height="2.9" fill="#000"/>
<rect x="475.05" y="348.75" width="2.9" height="2.9" fill="#000"/>
<rect x="479.75" y="345.95" width="2.9" height="2.9" fill="#000"/>
<rect x="458.05" y="360.35" width="2.9" height="2.9" fill="#000"/>
<rect x="462.95" y="360.35" width="2.9" height="2.9" fill="#000"/>
<rect x="468.15" y="360.35" width="2.9" height="2.9" fill="#000"/>
<rect x="472.85" y="360.35" width="2.9" height="2.9" fill="#000"/>
<rect x="477.65" y="360.35" width="2.9" height="2.9" fill="#000"/>
<line x1="338.4" y1="331.2" x2="403.5" y2="331.2" stroke="#000" stroke-width="1.2"/>
<line x1="354.4" y1="328.4" x2="387.6" y2="328.4" stroke="#000" stroke-width="1"/>
<line x1="354.4" y1="334.2" x2="387.6" y2="334.2" stroke="#000" stroke-width="1"/>
<line x1="371" y1="328.4" x2="371" y2="334.2" stroke="#000" stroke-width="1"/>
<line x1="437" y1="310.6" x2="501.6" y2="310.6" stroke="#000" stroke-width="1.2"/>
<line x1="452.6" y1="306.2" x2="486.4" y2="306.2" stroke="#000" stroke-width="1"/>
<line x1="452.6" y1="312.5" x2="486.4" y2="312.5" stroke="#000" stroke-width="1"/>
<line x1="469.5" y1="306.2" x2="469.5" y2="312.5" stroke="#000" stroke-width="1"/>
</g>
</svg>
</body></html>
